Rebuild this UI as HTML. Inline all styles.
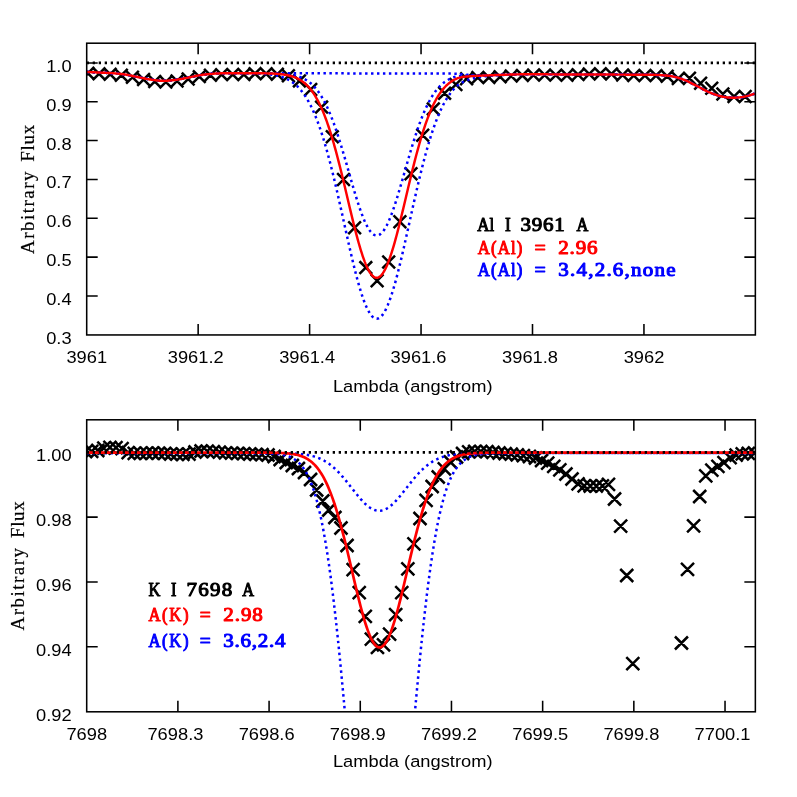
<!DOCTYPE html>
<html><head><meta charset="utf-8"><title>Spectral line fits</title>
<style>
html,body{margin:0;padding:0;background:#fff;}
body{width:797px;height:797px;overflow:hidden;font-family:"Liberation Sans",sans-serif;}
svg{display:block;will-change:transform;}
</style></head><body>
<svg width="797" height="797" viewBox="0 0 797 797">
<rect x="0" y="0" width="797" height="797" fill="#ffffff"/>
<defs>
<clipPath id="c1"><rect x="86.70" y="43.20" width="668.65" height="291.75"/></clipPath>
<clipPath id="c2"><rect x="86.70" y="419.80" width="668.65" height="292.00"/></clipPath>
</defs>
<path d="M198.15,334.95 v-11.00 M198.15,43.20 v11.00 M309.60,334.95 v-11.00 M309.60,43.20 v11.00 M421.05,334.95 v-11.00 M421.05,43.20 v11.00 M532.50,334.95 v-11.00 M532.50,43.20 v11.00 M643.95,334.95 v-11.00 M643.95,43.20 v11.00 M86.70,295.94 h11.00 M755.35,295.94 h-11.00 M86.70,257.10 h11.00 M755.35,257.10 h-11.00 M86.70,218.26 h11.00 M755.35,218.26 h-11.00 M86.70,179.42 h11.00 M755.35,179.42 h-11.00 M86.70,140.58 h11.00 M755.35,140.58 h-11.00 M86.70,101.74 h11.00 M755.35,101.74 h-11.00 M86.70,62.90 h11.00 M755.35,62.90 h-11.00" stroke="#000" stroke-width="1.55" fill="none"/>
<path d="M177.89,711.80 v-11.00 M177.89,419.80 v11.00 M269.08,711.80 v-11.00 M269.08,419.80 v11.00 M360.27,711.80 v-11.00 M360.27,419.80 v11.00 M451.46,711.80 v-11.00 M451.46,419.80 v11.00 M542.65,711.80 v-11.00 M542.65,419.80 v11.00 M633.84,711.80 v-11.00 M633.84,419.80 v11.00 M725.03,711.80 v-11.00 M725.03,419.80 v11.00 M86.70,646.70 h11.00 M755.35,646.70 h-11.00 M86.70,581.90 h11.00 M755.35,581.90 h-11.00 M86.70,517.10 h11.00 M755.35,517.10 h-11.00 M86.70,452.30 h11.00 M755.35,452.30 h-11.00" stroke="#000" stroke-width="1.55" fill="none"/>
<g clip-path="url(#c1)">
<path d="M81.55,66.92 l12.70,12.70 M81.55,79.62 l12.70,-12.70 M92.69,67.50 l12.70,12.70 M92.69,80.20 l12.70,-12.70 M103.83,68.00 l12.70,12.70 M103.83,80.70 l12.70,-12.70 M114.97,68.95 l12.70,12.70 M114.97,81.65 l12.70,-12.70 M126.11,70.86 l12.70,12.70 M126.11,83.56 l12.70,-12.70 M137.25,73.21 l12.70,12.70 M137.25,85.91 l12.70,-12.70 M148.39,75.10 l12.70,12.70 M148.39,87.80 l12.70,-12.70 M159.53,75.71 l12.70,12.70 M159.53,88.41 l12.70,-12.70 M170.67,74.62 l12.70,12.70 M170.67,87.32 l12.70,-12.70 M181.81,72.58 l12.70,12.70 M181.81,85.28 l12.70,-12.70 M192.95,70.27 l12.70,12.70 M192.95,82.97 l12.70,-12.70 M204.09,68.90 l12.70,12.70 M204.09,81.60 l12.70,-12.70 M215.23,68.27 l12.70,12.70 M215.23,80.97 l12.70,-12.70 M226.37,68.12 l12.70,12.70 M226.37,80.82 l12.70,-12.70 M237.51,68.16 l12.70,12.70 M237.51,80.86 l12.70,-12.70 M248.65,67.29 l12.70,12.70 M248.65,79.99 l12.70,-12.70 M259.79,67.42 l12.70,12.70 M259.79,80.12 l12.70,-12.70 M270.93,67.90 l12.70,12.70 M270.93,80.60 l12.70,-12.70 M282.07,69.45 l12.70,12.70 M282.07,82.15 l12.70,-12.70 M293.05,74.55 l12.70,12.70 M293.05,87.25 l12.70,-12.70 M304.35,83.15 l12.70,12.70 M304.35,95.85 l12.70,-12.70 M315.25,100.75 l12.70,12.70 M315.25,113.45 l12.70,-12.70 M325.95,130.45 l12.70,12.70 M325.95,143.15 l12.70,-12.70 M337.15,173.15 l12.70,12.70 M337.15,185.85 l12.70,-12.70 M348.25,221.45 l12.70,12.70 M348.25,234.15 l12.70,-12.70 M359.45,261.25 l12.70,12.70 M359.45,273.95 l12.70,-12.70 M370.75,274.45 l12.70,12.70 M370.75,287.15 l12.70,-12.70 M382.35,255.65 l12.70,12.70 M382.35,268.35 l12.70,-12.70 M393.55,215.45 l12.70,12.70 M393.55,228.15 l12.70,-12.70 M404.65,167.45 l12.70,12.70 M404.65,180.15 l12.70,-12.70 M416.35,128.95 l12.70,12.70 M416.35,141.65 l12.70,-12.70 M426.95,102.55 l12.70,12.70 M426.95,115.25 l12.70,-12.70 M438.25,86.85 l12.70,12.70 M438.25,99.55 l12.70,-12.70 M449.55,78.15 l12.70,12.70 M449.55,90.85 l12.70,-12.70 M460.25,72.45 l12.70,12.70 M460.25,85.15 l12.70,-12.70 M471.45,71.25 l12.70,12.70 M471.45,83.95 l12.70,-12.70 M482.55,71.05 l12.70,12.70 M482.55,83.75 l12.70,-12.70 M493.75,70.45 l12.70,12.70 M493.75,83.15 l12.70,-12.70 M504.85,69.65 l12.70,12.70 M504.85,82.35 l12.70,-12.70 M516.05,69.05 l12.70,12.70 M516.05,81.75 l12.70,-12.70 M527.15,68.75 l12.70,12.70 M527.15,81.45 l12.70,-12.70 M538.29,68.66 l12.70,12.70 M538.29,81.36 l12.70,-12.70 M549.43,68.76 l12.70,12.70 M549.43,81.46 l12.70,-12.70 M560.57,68.84 l12.70,12.70 M560.57,81.54 l12.70,-12.70 M571.71,68.26 l12.70,12.70 M571.71,80.96 l12.70,-12.70 M582.85,67.58 l12.70,12.70 M582.85,80.28 l12.70,-12.70 M593.99,67.30 l12.70,12.70 M593.99,80.00 l12.70,-12.70 M605.13,67.63 l12.70,12.70 M605.13,80.33 l12.70,-12.70 M616.27,68.59 l12.70,12.70 M616.27,81.29 l12.70,-12.70 M627.41,69.08 l12.70,12.70 M627.41,81.78 l12.70,-12.70 M638.55,69.17 l12.70,12.70 M638.55,81.87 l12.70,-12.70 M649.69,69.25 l12.70,12.70 M649.69,81.95 l12.70,-12.70 M660.83,69.98 l12.70,12.70 M660.83,82.68 l12.70,-12.70 M671.97,72.20 l12.70,12.70 M671.97,84.90 l12.70,-12.70 M683.11,71.95 l12.70,12.70 M683.11,84.65 l12.70,-12.70 M694.25,76.95 l12.70,12.70 M694.25,89.65 l12.70,-12.70 M705.39,81.95 l12.70,12.70 M705.39,94.65 l12.70,-12.70 M716.53,87.65 l12.70,12.70 M716.53,100.35 l12.70,-12.70 M727.67,90.15 l12.70,12.70 M727.67,102.85 l12.70,-12.70 M738.81,90.15 l12.70,12.70 M738.81,102.85 l12.70,-12.70" stroke="#000" stroke-width="2.5" fill="none"/>
<path d="M86.70,71.90 L87.70,71.96 L88.70,72.01 L89.70,72.06 L90.70,72.12 L91.70,72.17 L92.70,72.22 L93.70,72.28 L94.70,72.33 L95.70,72.38 L96.70,72.43 L97.70,72.48 L98.70,72.53 L99.70,72.58 L100.70,72.63 L101.70,72.68 L102.70,72.72 L103.70,72.76 L104.70,72.80 L105.70,72.84 L106.70,72.88 L107.70,72.92 L108.70,72.97 L109.70,73.02 L110.70,73.08 L111.70,73.14 L112.70,73.22 L113.70,73.29 L114.70,73.37 L115.70,73.45 L116.70,73.54 L117.70,73.63 L118.70,73.72 L119.70,73.82 L120.70,73.93 L121.70,74.04 L122.70,74.17 L123.70,74.30 L124.70,74.44 L125.70,74.59 L126.70,74.76 L127.70,74.94 L128.70,75.13 L129.70,75.33 L130.70,75.54 L131.70,75.75 L132.70,75.97 L133.70,76.18 L134.70,76.40 L135.70,76.61 L136.70,76.82 L137.70,77.02 L138.70,77.22 L139.70,77.43 L140.70,77.64 L141.70,77.86 L142.70,78.07 L143.70,78.28 L144.70,78.49 L145.70,78.70 L146.70,78.89 L147.70,79.08 L148.70,79.26 L149.70,79.42 L150.70,79.58 L151.70,79.72 L152.70,79.87 L153.70,80.01 L154.70,80.15 L155.70,80.27 L156.70,80.39 L157.70,80.49 L158.70,80.59 L159.70,80.67 L160.70,80.73 L161.70,80.77 L162.70,80.80 L163.70,80.81 L164.70,80.80 L165.70,80.77 L166.70,80.72 L167.70,80.67 L168.70,80.59 L169.70,80.51 L170.70,80.42 L171.70,80.32 L172.70,80.21 L173.70,80.09 L174.70,79.97 L175.70,79.85 L176.70,79.71 L177.70,79.56 L178.70,79.41 L179.70,79.24 L180.70,79.06 L181.70,78.88 L182.70,78.69 L183.70,78.50 L184.70,78.30 L185.70,78.11 L186.70,77.91 L187.70,77.72 L188.70,77.52 L189.70,77.32 L190.70,77.11 L191.70,76.89 L192.70,76.67 L193.70,76.45 L194.70,76.23 L195.70,76.02 L196.70,75.81 L197.70,75.61 L198.70,75.42 L199.70,75.25 L200.70,75.09 L201.70,74.94 L202.70,74.80 L203.70,74.66 L204.70,74.54 L205.70,74.42 L206.70,74.31 L207.70,74.21 L208.70,74.11 L209.70,74.01 L210.70,73.93 L211.70,73.85 L212.70,73.77 L213.70,73.70 L214.70,73.63 L215.70,73.56 L216.70,73.51 L217.70,73.46 L218.70,73.41 L219.70,73.37 L220.70,73.34 L221.70,73.31 L222.70,73.29 L223.70,73.27 L224.70,73.25 L225.70,73.23 L226.70,73.21 L227.70,73.20 L228.70,73.19 L229.70,73.18 L230.70,73.17 L231.70,73.17 L232.70,73.17 L233.70,73.17 L234.70,73.18 L235.70,73.18 L236.70,73.19 L237.70,73.19 L238.70,73.20 L239.70,73.20 L240.70,73.20 L241.70,73.20 L242.70,73.20 L243.70,73.20 L244.70,73.20 L245.70,73.20 L246.70,73.20 L247.70,73.20 L248.70,73.20 L249.70,73.20 L250.70,73.20 L251.70,73.20 L252.70,73.20 L253.70,73.20 L254.70,73.20 L255.70,73.20 L256.70,73.20 L257.70,73.20 L258.70,73.20 L259.70,73.20 L260.70,73.20 L261.70,73.20 L262.70,73.20 L263.70,73.20 L264.70,73.20 L265.70,73.20 L266.70,73.20 L267.70,73.20 L268.70,73.20 L269.70,73.20 L270.70,73.20 L271.70,73.20 L272.70,73.20 L273.70,73.20 L274.70,73.20 L275.70,73.20 L276.70,73.20 L277.70,73.20 L278.70,73.20 L279.70,73.20 L280.70,73.20 L281.70,73.20 L282.70,73.20 L283.70,73.20 L284.70,73.20 L285.70,73.20 L286.70,73.20 L287.70,73.20 L288.70,73.20 L289.70,73.20 L290.70,73.20 L291.70,73.20 L292.70,73.20 L293.70,73.20 L294.70,73.20 L295.70,73.20 L296.70,73.20 L297.70,73.20 L298.70,73.20 L299.70,73.20 L300.70,73.20 L301.70,73.20 L302.70,73.20 L303.70,73.21 L304.70,73.21 L305.70,73.21 L306.70,73.21 L307.70,73.21 L308.70,73.22 L309.70,73.22 L310.70,73.22 L311.70,73.23 L312.70,73.23 L313.70,73.23 L314.70,73.23 L315.70,73.24 L316.70,73.24 L317.70,73.25 L318.70,73.25 L319.70,73.25 L320.70,73.26 L321.70,73.26 L322.70,73.27 L323.70,73.27 L324.70,73.27 L325.70,73.28 L326.70,73.28 L327.70,73.29 L328.70,73.29 L329.70,73.30 L330.70,73.30 L331.70,73.31 L332.70,73.31 L333.70,73.32 L334.70,73.32 L335.70,73.33 L336.70,73.33 L337.70,73.34 L338.70,73.34 L339.70,73.35 L340.70,73.35 L341.70,73.36 L342.70,73.36 L343.70,73.37 L344.70,73.37 L345.70,73.38 L346.70,73.38 L347.70,73.39 L348.70,73.39 L349.70,73.40 L350.70,73.40 L351.70,73.41 L352.70,73.41 L353.70,73.42 L354.70,73.42 L355.70,73.43 L356.70,73.43 L357.70,73.44 L358.70,73.44 L359.70,73.45 L360.70,73.45 L361.70,73.45 L362.70,73.46 L363.70,73.46 L364.70,73.47 L365.70,73.47 L366.70,73.47 L367.70,73.48 L368.70,73.48 L369.70,73.48 L370.70,73.49 L371.70,73.49 L372.70,73.49 L373.70,73.49 L374.70,73.50 L375.70,73.50 L376.70,73.50 L377.70,73.50 L378.70,73.50 L379.70,73.51 L380.70,73.51 L381.70,73.51 L382.70,73.51 L383.70,73.51 L384.70,73.51 L385.70,73.50 L386.70,73.50 L387.70,73.50 L388.70,73.50 L389.70,73.50 L390.70,73.50 L391.70,73.50 L392.70,73.49 L393.70,73.49 L394.70,73.49 L395.70,73.49 L396.70,73.48 L397.70,73.48 L398.70,73.48 L399.70,73.48 L400.70,73.47 L401.70,73.47 L402.70,73.47 L403.70,73.46 L404.70,73.46 L405.70,73.46 L406.70,73.46 L407.70,73.46 L408.70,73.45 L409.70,73.45 L410.70,73.45 L411.70,73.45 L412.70,73.45 L413.70,73.45 L414.70,73.44 L415.70,73.44 L416.70,73.44 L417.70,73.44 L418.70,73.44 L419.70,73.44 L420.70,73.44 L421.70,73.45 L422.70,73.45 L423.70,73.45 L424.70,73.45 L425.70,73.45 L426.70,73.46 L427.70,73.46 L428.70,73.47 L429.70,73.47 L430.70,73.47 L431.70,73.48 L432.70,73.49 L433.70,73.49 L434.70,73.50 L435.70,73.51 L436.70,73.52 L437.70,73.53 L438.70,73.54 L439.70,73.55 L440.70,73.56 L441.70,73.56 L442.70,73.56 L443.70,73.56 L444.70,73.56 L445.70,73.56 L446.70,73.55 L447.70,73.55 L448.70,73.55 L449.70,73.55 L450.70,73.56 L451.70,73.57 L452.70,73.59 L453.70,73.61 L454.70,73.64 L455.70,73.68 L456.70,73.72 L457.70,73.78 L458.70,73.85 L459.70,73.93 L460.70,74.03 L461.70,74.14 L462.70,74.25 L463.70,74.37 L464.70,74.49 L465.70,74.60 L466.70,74.71 L467.70,74.82 L468.70,74.91 L469.70,74.98 L470.70,75.04 L471.70,75.09 L472.70,75.14 L473.70,75.17 L474.70,75.21 L475.70,75.23 L476.70,75.25 L477.70,75.27 L478.70,75.29 L479.70,75.30 L480.70,75.31 L481.70,75.31 L482.70,75.31 L483.70,75.30 L484.70,75.29 L485.70,75.28 L486.70,75.26 L487.70,75.24 L488.70,75.23 L489.70,75.21 L490.70,75.19 L491.70,75.16 L492.70,75.13 L493.70,75.10 L494.70,75.07 L495.70,75.04 L496.70,75.01 L497.70,74.98 L498.70,74.94 L499.70,74.91 L500.70,74.88 L501.70,74.84 L502.70,74.81 L503.70,74.78 L504.70,74.74 L505.70,74.70 L506.70,74.67 L507.70,74.64 L508.70,74.60 L509.70,74.57 L510.70,74.54 L511.70,74.51 L512.70,74.48 L513.70,74.46 L514.70,74.43 L515.70,74.41 L516.70,74.39 L517.70,74.37 L518.70,74.35 L519.70,74.34 L520.70,74.32 L521.70,74.31 L522.70,74.30 L523.70,74.29 L524.70,74.28 L525.70,74.27 L526.70,74.27 L527.70,74.26 L528.70,74.26 L529.70,74.26 L530.70,74.25 L531.70,74.25 L532.70,74.25 L533.70,74.26 L534.70,74.26 L535.70,74.26 L536.70,74.26 L537.70,74.27 L538.70,74.27 L539.70,74.28 L540.70,74.28 L541.70,74.29 L542.70,74.30 L543.70,74.30 L544.70,74.31 L545.70,74.32 L546.70,74.33 L547.70,74.34 L548.70,74.35 L549.70,74.36 L550.70,74.36 L551.70,74.37 L552.70,74.38 L553.70,74.39 L554.70,74.40 L555.70,74.41 L556.70,74.42 L557.70,74.43 L558.70,74.44 L559.70,74.44 L560.70,74.45 L561.70,74.46 L562.70,74.47 L563.70,74.47 L564.70,74.48 L565.70,74.48 L566.70,74.49 L567.70,74.49 L568.70,74.50 L569.70,74.50 L570.70,74.50 L571.70,74.50 L572.70,74.50 L573.70,74.51 L574.70,74.51 L575.70,74.51 L576.70,74.51 L577.70,74.51 L578.70,74.51 L579.70,74.52 L580.70,74.52 L581.70,74.52 L582.70,74.52 L583.70,74.52 L584.70,74.52 L585.70,74.52 L586.70,74.52 L587.70,74.52 L588.70,74.53 L589.70,74.53 L590.70,74.53 L591.70,74.53 L592.70,74.53 L593.70,74.53 L594.70,74.53 L595.70,74.54 L596.70,74.54 L597.70,74.54 L598.70,74.54 L599.70,74.54 L600.70,74.55 L601.70,74.55 L602.70,74.55 L603.70,74.55 L604.70,74.56 L605.70,74.56 L606.70,74.56 L607.70,74.56 L608.70,74.57 L609.70,74.57 L610.70,74.58 L611.70,74.58 L612.70,74.58 L613.70,74.59 L614.70,74.59 L615.70,74.60 L616.70,74.60 L617.70,74.61 L618.70,74.61 L619.70,74.62 L620.70,74.62 L621.70,74.63 L622.70,74.64 L623.70,74.64 L624.70,74.65 L625.70,74.66 L626.70,74.67 L627.70,74.67 L628.70,74.68 L629.70,74.69 L630.70,74.70 L631.70,74.71 L632.70,74.72 L633.70,74.73 L634.70,74.74 L635.70,74.75 L636.70,74.76 L637.70,74.77 L638.70,74.78 L639.70,74.80 L640.70,74.81 L641.70,74.81 L642.70,74.82 L643.70,74.82 L644.70,74.82 L645.70,74.81 L646.70,74.81 L647.70,74.81 L648.70,74.81 L649.70,74.81 L650.70,74.81 L651.70,74.82 L652.70,74.83 L653.70,74.84 L654.70,74.86 L655.70,74.89 L656.70,74.92 L657.70,74.97 L658.70,75.02 L659.70,75.08 L660.70,75.15 L661.70,75.21 L662.70,75.28 L663.70,75.35 L664.70,75.42 L665.70,75.50 L666.70,75.58 L667.70,75.68 L668.70,75.80 L669.70,75.93 L670.70,76.08 L671.70,76.25 L672.70,76.44 L673.70,76.65 L674.70,76.88 L675.70,77.13 L676.70,77.39 L677.70,77.67 L678.70,77.96 L679.70,78.27 L680.70,78.59 L681.70,78.93 L682.70,79.29 L683.70,79.66 L684.70,80.04 L685.70,80.44 L686.70,80.88 L687.70,81.33 L688.70,81.81 L689.70,82.30 L690.70,82.81 L691.70,83.33 L692.70,83.85 L693.70,84.38 L694.70,84.91 L695.70,85.43 L696.70,85.95 L697.70,86.45 L698.70,86.96 L699.70,87.47 L700.70,88.00 L701.70,88.53 L702.70,89.06 L703.70,89.58 L704.70,90.11 L705.70,90.62 L706.70,91.11 L707.70,91.59 L708.70,92.05 L709.70,92.49 L710.70,92.90 L711.70,93.30 L712.70,93.69 L713.70,94.07 L714.70,94.43 L715.70,94.78 L716.70,95.11 L717.70,95.43 L718.70,95.72 L719.70,96.00 L720.70,96.26 L721.70,96.49 L722.70,96.70 L723.70,96.89 L724.70,97.05 L725.70,97.20 L726.70,97.33 L727.70,97.43 L728.70,97.52 L729.70,97.59 L730.70,97.64 L731.70,97.68 L732.70,97.70 L733.70,97.70 L734.70,97.69 L735.70,97.66 L736.70,97.62 L737.70,97.56 L738.70,97.48 L739.70,97.38 L740.70,97.27 L741.70,97.14 L742.70,96.99 L743.70,96.81 L744.70,96.62 L745.70,96.41 L746.70,96.18 L747.70,95.92 L748.70,95.65 L749.70,95.35 L750.70,95.04 L751.70,94.71 L752.70,94.37 L753.70,94.01 L754.70,93.64" stroke="#0000ff" stroke-width="2.5" stroke-dasharray="2.45 3.5" fill="none"/>
<path d="M86.70,71.90 L87.70,71.96 L88.70,72.01 L89.70,72.06 L90.70,72.12 L91.70,72.17 L92.70,72.22 L93.70,72.28 L94.70,72.33 L95.70,72.38 L96.70,72.43 L97.70,72.48 L98.70,72.53 L99.70,72.58 L100.70,72.63 L101.70,72.68 L102.70,72.72 L103.70,72.76 L104.70,72.80 L105.70,72.84 L106.70,72.88 L107.70,72.92 L108.70,72.97 L109.70,73.02 L110.70,73.08 L111.70,73.14 L112.70,73.22 L113.70,73.29 L114.70,73.37 L115.70,73.45 L116.70,73.54 L117.70,73.63 L118.70,73.72 L119.70,73.82 L120.70,73.93 L121.70,74.04 L122.70,74.17 L123.70,74.30 L124.70,74.44 L125.70,74.59 L126.70,74.76 L127.70,74.94 L128.70,75.13 L129.70,75.33 L130.70,75.54 L131.70,75.75 L132.70,75.97 L133.70,76.18 L134.70,76.40 L135.70,76.61 L136.70,76.82 L137.70,77.02 L138.70,77.22 L139.70,77.43 L140.70,77.64 L141.70,77.86 L142.70,78.07 L143.70,78.28 L144.70,78.49 L145.70,78.70 L146.70,78.89 L147.70,79.08 L148.70,79.26 L149.70,79.42 L150.70,79.58 L151.70,79.72 L152.70,79.87 L153.70,80.01 L154.70,80.15 L155.70,80.27 L156.70,80.39 L157.70,80.49 L158.70,80.59 L159.70,80.67 L160.70,80.73 L161.70,80.77 L162.70,80.80 L163.70,80.81 L164.70,80.80 L165.70,80.77 L166.70,80.72 L167.70,80.67 L168.70,80.59 L169.70,80.51 L170.70,80.42 L171.70,80.32 L172.70,80.21 L173.70,80.09 L174.70,79.97 L175.70,79.85 L176.70,79.71 L177.70,79.56 L178.70,79.41 L179.70,79.24 L180.70,79.06 L181.70,78.88 L182.70,78.69 L183.70,78.50 L184.70,78.30 L185.70,78.11 L186.70,77.91 L187.70,77.72 L188.70,77.52 L189.70,77.32 L190.70,77.11 L191.70,76.89 L192.70,76.67 L193.70,76.45 L194.70,76.23 L195.70,76.02 L196.70,75.81 L197.70,75.61 L198.70,75.42 L199.70,75.25 L200.70,75.09 L201.70,74.94 L202.70,74.80 L203.70,74.66 L204.70,74.54 L205.70,74.42 L206.70,74.31 L207.70,74.21 L208.70,74.11 L209.70,74.01 L210.70,73.93 L211.70,73.85 L212.70,73.77 L213.70,73.70 L214.70,73.63 L215.70,73.56 L216.70,73.51 L217.70,73.46 L218.70,73.41 L219.70,73.37 L220.70,73.34 L221.70,73.31 L222.70,73.29 L223.70,73.27 L224.70,73.25 L225.70,73.23 L226.70,73.21 L227.70,73.20 L228.70,73.19 L229.70,73.18 L230.70,73.17 L231.70,73.17 L232.70,73.17 L233.70,73.17 L234.70,73.18 L235.70,73.18 L236.70,73.19 L237.70,73.19 L238.70,73.20 L239.70,73.20 L240.70,73.20 L241.70,73.20 L242.70,73.20 L243.70,73.20 L244.70,73.20 L245.70,73.20 L246.70,73.20 L247.70,73.20 L248.70,73.20 L249.70,73.21 L250.70,73.21 L251.70,73.21 L252.70,73.21 L253.70,73.21 L254.70,73.21 L255.70,73.21 L256.70,73.22 L257.70,73.22 L258.70,73.22 L259.70,73.23 L260.70,73.23 L261.70,73.24 L262.70,73.24 L263.70,73.25 L264.70,73.25 L265.70,73.26 L266.70,73.27 L267.70,73.28 L268.70,73.30 L269.70,73.31 L270.70,73.33 L271.70,73.34 L272.70,73.36 L273.70,73.39 L274.70,73.41 L275.70,73.44 L276.70,73.47 L277.70,73.51 L278.70,73.55 L279.70,73.60 L280.70,73.65 L281.70,73.71 L282.70,73.77 L283.70,73.85 L284.70,73.93 L285.70,74.02 L286.70,74.12 L287.70,74.23 L288.70,74.36 L289.70,74.49 L290.70,74.64 L291.70,74.81 L292.70,74.99 L293.70,75.20 L294.70,75.42 L295.70,75.66 L296.70,75.93 L297.70,76.22 L298.70,76.54 L299.70,76.89 L300.70,77.27 L301.70,77.68 L302.70,78.13 L303.70,78.62 L304.70,79.15 L305.70,79.72 L306.70,80.33 L307.70,80.99 L308.70,81.70 L309.70,82.47 L310.70,83.29 L311.70,84.17 L312.70,85.11 L313.70,86.12 L314.70,87.19 L315.70,88.34 L316.70,89.55 L317.70,90.84 L318.70,92.21 L319.70,93.65 L320.70,95.18 L321.70,96.79 L322.70,98.49 L323.70,100.28 L324.70,102.15 L325.70,104.12 L326.70,106.18 L327.70,108.32 L328.70,110.56 L329.70,112.90 L330.70,115.32 L331.70,117.84 L332.70,120.44 L333.70,123.14 L334.70,125.92 L335.70,128.78 L336.70,131.73 L337.70,134.75 L338.70,137.84 L339.70,141.01 L340.70,144.24 L341.70,147.53 L342.70,150.87 L343.70,154.26 L344.70,157.69 L345.70,161.15 L346.70,164.63 L347.70,168.14 L348.70,171.65 L349.70,175.16 L350.70,178.67 L351.70,182.15 L352.70,185.61 L353.70,189.03 L354.70,192.40 L355.70,195.71 L356.70,198.96 L357.70,202.12 L358.70,205.20 L359.70,208.18 L360.70,211.05 L361.70,213.80 L362.70,216.42 L363.70,218.91 L364.70,221.25 L365.70,223.44 L366.70,225.46 L367.70,227.32 L368.70,229.00 L369.70,230.50 L370.70,231.81 L371.70,232.93 L372.70,233.85 L373.70,234.57 L374.70,235.08 L375.70,235.40 L376.70,235.50 L377.70,235.40 L378.70,235.09 L379.70,234.58 L380.70,233.86 L381.70,232.94 L382.70,231.83 L383.70,230.52 L384.70,229.03 L385.70,227.35 L386.70,225.49 L387.70,223.47 L388.70,221.29 L389.70,218.95 L390.70,216.46 L391.70,213.84 L392.70,211.09 L393.70,208.22 L394.70,205.25 L395.70,202.17 L396.70,199.01 L397.70,195.76 L398.70,192.45 L399.70,189.09 L400.70,185.67 L401.70,182.21 L402.70,178.73 L403.70,175.23 L404.70,171.72 L405.70,168.21 L406.70,164.71 L407.70,161.22 L408.70,157.77 L409.70,154.34 L410.70,150.96 L411.70,147.62 L412.70,144.33 L413.70,141.11 L414.70,137.95 L415.70,134.85 L416.70,131.84 L417.70,128.90 L418.70,126.04 L419.70,123.26 L420.70,120.57 L421.70,117.97 L422.70,115.47 L423.70,113.05 L424.70,110.72 L425.70,108.49 L426.70,106.35 L427.70,104.30 L428.70,102.34 L429.70,100.48 L430.70,98.70 L431.70,97.01 L432.70,95.41 L433.70,93.89 L434.70,92.46 L435.70,91.10 L436.70,89.83 L437.70,88.62 L438.70,87.49 L439.70,86.44 L440.70,85.44 L441.70,84.51 L442.70,83.63 L443.70,82.81 L444.70,82.05 L445.70,81.34 L446.70,80.67 L447.70,80.06 L448.70,79.49 L449.70,78.97 L450.70,78.49 L451.70,78.05 L452.70,77.66 L453.70,77.30 L454.70,76.98 L455.70,76.70 L456.70,76.46 L457.70,76.25 L458.70,76.07 L459.70,75.94 L460.70,75.83 L461.70,75.75 L462.70,75.70 L463.70,75.67 L464.70,75.65 L465.70,75.64 L466.70,75.64 L467.70,75.64 L468.70,75.64 L469.70,75.63 L470.70,75.62 L471.70,75.61 L472.70,75.59 L473.70,75.58 L474.70,75.56 L475.70,75.55 L476.70,75.53 L477.70,75.51 L478.70,75.50 L479.70,75.48 L480.70,75.47 L481.70,75.45 L482.70,75.43 L483.70,75.41 L484.70,75.39 L485.70,75.36 L486.70,75.33 L487.70,75.31 L488.70,75.28 L489.70,75.25 L490.70,75.23 L491.70,75.20 L492.70,75.16 L493.70,75.13 L494.70,75.10 L495.70,75.06 L496.70,75.03 L497.70,74.99 L498.70,74.95 L499.70,74.92 L500.70,74.89 L501.70,74.85 L502.70,74.82 L503.70,74.78 L504.70,74.74 L505.70,74.71 L506.70,74.67 L507.70,74.64 L508.70,74.60 L509.70,74.57 L510.70,74.54 L511.70,74.51 L512.70,74.48 L513.70,74.46 L514.70,74.43 L515.70,74.41 L516.70,74.39 L517.70,74.37 L518.70,74.35 L519.70,74.34 L520.70,74.32 L521.70,74.31 L522.70,74.30 L523.70,74.29 L524.70,74.28 L525.70,74.27 L526.70,74.27 L527.70,74.26 L528.70,74.26 L529.70,74.26 L530.70,74.25 L531.70,74.25 L532.70,74.25 L533.70,74.26 L534.70,74.26 L535.70,74.26 L536.70,74.26 L537.70,74.27 L538.70,74.27 L539.70,74.28 L540.70,74.28 L541.70,74.29 L542.70,74.30 L543.70,74.30 L544.70,74.31 L545.70,74.32 L546.70,74.33 L547.70,74.34 L548.70,74.35 L549.70,74.36 L550.70,74.36 L551.70,74.37 L552.70,74.38 L553.70,74.39 L554.70,74.40 L555.70,74.41 L556.70,74.42 L557.70,74.43 L558.70,74.44 L559.70,74.44 L560.70,74.45 L561.70,74.46 L562.70,74.47 L563.70,74.47 L564.70,74.48 L565.70,74.48 L566.70,74.49 L567.70,74.49 L568.70,74.50 L569.70,74.50 L570.70,74.50 L571.70,74.50 L572.70,74.50 L573.70,74.51 L574.70,74.51 L575.70,74.51 L576.70,74.51 L577.70,74.51 L578.70,74.51 L579.70,74.52 L580.70,74.52 L581.70,74.52 L582.70,74.52 L583.70,74.52 L584.70,74.52 L585.70,74.52 L586.70,74.52 L587.70,74.52 L588.70,74.53 L589.70,74.53 L590.70,74.53 L591.70,74.53 L592.70,74.53 L593.70,74.53 L594.70,74.53 L595.70,74.54 L596.70,74.54 L597.70,74.54 L598.70,74.54 L599.70,74.54 L600.70,74.55 L601.70,74.55 L602.70,74.55 L603.70,74.55 L604.70,74.56 L605.70,74.56 L606.70,74.56 L607.70,74.56 L608.70,74.57 L609.70,74.57 L610.70,74.58 L611.70,74.58 L612.70,74.58 L613.70,74.59 L614.70,74.59 L615.70,74.60 L616.70,74.60 L617.70,74.61 L618.70,74.61 L619.70,74.62 L620.70,74.62 L621.70,74.63 L622.70,74.64 L623.70,74.64 L624.70,74.65 L625.70,74.66 L626.70,74.67 L627.70,74.67 L628.70,74.68 L629.70,74.69 L630.70,74.70 L631.70,74.71 L632.70,74.72 L633.70,74.73 L634.70,74.74 L635.70,74.75 L636.70,74.76 L637.70,74.77 L638.70,74.78 L639.70,74.80 L640.70,74.81 L641.70,74.81 L642.70,74.82 L643.70,74.82 L644.70,74.82 L645.70,74.81 L646.70,74.81 L647.70,74.81 L648.70,74.81 L649.70,74.81 L650.70,74.81 L651.70,74.82 L652.70,74.83 L653.70,74.84 L654.70,74.86 L655.70,74.89 L656.70,74.92 L657.70,74.97 L658.70,75.02 L659.70,75.08 L660.70,75.15 L661.70,75.21 L662.70,75.28 L663.70,75.35 L664.70,75.42 L665.70,75.50 L666.70,75.58 L667.70,75.68 L668.70,75.80 L669.70,75.93 L670.70,76.08 L671.70,76.25 L672.70,76.44 L673.70,76.65 L674.70,76.88 L675.70,77.13 L676.70,77.39 L677.70,77.67 L678.70,77.96 L679.70,78.27 L680.70,78.59 L681.70,78.93 L682.70,79.29 L683.70,79.66 L684.70,80.04 L685.70,80.44 L686.70,80.88 L687.70,81.33 L688.70,81.81 L689.70,82.30 L690.70,82.81 L691.70,83.33 L692.70,83.85 L693.70,84.38 L694.70,84.91 L695.70,85.43 L696.70,85.95 L697.70,86.45 L698.70,86.96 L699.70,87.47 L700.70,88.00 L701.70,88.53 L702.70,89.06 L703.70,89.58 L704.70,90.11 L705.70,90.62 L706.70,91.11 L707.70,91.59 L708.70,92.05 L709.70,92.49 L710.70,92.90 L711.70,93.30 L712.70,93.69 L713.70,94.07 L714.70,94.43 L715.70,94.78 L716.70,95.11 L717.70,95.43 L718.70,95.72 L719.70,96.00 L720.70,96.26 L721.70,96.49 L722.70,96.70 L723.70,96.89 L724.70,97.05 L725.70,97.20 L726.70,97.33 L727.70,97.43 L728.70,97.52 L729.70,97.59 L730.70,97.64 L731.70,97.68 L732.70,97.70 L733.70,97.70 L734.70,97.69 L735.70,97.66 L736.70,97.62 L737.70,97.56 L738.70,97.48 L739.70,97.38 L740.70,97.27 L741.70,97.14 L742.70,96.99 L743.70,96.81 L744.70,96.62 L745.70,96.41 L746.70,96.18 L747.70,95.92 L748.70,95.65 L749.70,95.35 L750.70,95.04 L751.70,94.71 L752.70,94.37 L753.70,94.01 L754.70,93.64" stroke="#0000ff" stroke-width="2.5" stroke-dasharray="2.45 3.5" fill="none"/>
<path d="M86.70,71.90 L87.70,71.96 L88.70,72.01 L89.70,72.06 L90.70,72.12 L91.70,72.17 L92.70,72.22 L93.70,72.28 L94.70,72.33 L95.70,72.38 L96.70,72.43 L97.70,72.48 L98.70,72.53 L99.70,72.58 L100.70,72.63 L101.70,72.68 L102.70,72.72 L103.70,72.76 L104.70,72.80 L105.70,72.84 L106.70,72.88 L107.70,72.92 L108.70,72.97 L109.70,73.02 L110.70,73.08 L111.70,73.14 L112.70,73.22 L113.70,73.29 L114.70,73.37 L115.70,73.45 L116.70,73.54 L117.70,73.63 L118.70,73.72 L119.70,73.82 L120.70,73.93 L121.70,74.04 L122.70,74.17 L123.70,74.30 L124.70,74.44 L125.70,74.59 L126.70,74.76 L127.70,74.94 L128.70,75.13 L129.70,75.33 L130.70,75.54 L131.70,75.75 L132.70,75.97 L133.70,76.18 L134.70,76.40 L135.70,76.61 L136.70,76.82 L137.70,77.02 L138.70,77.22 L139.70,77.43 L140.70,77.64 L141.70,77.86 L142.70,78.07 L143.70,78.28 L144.70,78.49 L145.70,78.70 L146.70,78.89 L147.70,79.08 L148.70,79.26 L149.70,79.42 L150.70,79.58 L151.70,79.72 L152.70,79.87 L153.70,80.01 L154.70,80.15 L155.70,80.27 L156.70,80.39 L157.70,80.49 L158.70,80.59 L159.70,80.67 L160.70,80.73 L161.70,80.77 L162.70,80.80 L163.70,80.81 L164.70,80.80 L165.70,80.77 L166.70,80.72 L167.70,80.67 L168.70,80.59 L169.70,80.51 L170.70,80.42 L171.70,80.32 L172.70,80.21 L173.70,80.09 L174.70,79.97 L175.70,79.85 L176.70,79.71 L177.70,79.56 L178.70,79.41 L179.70,79.24 L180.70,79.06 L181.70,78.88 L182.70,78.69 L183.70,78.50 L184.70,78.30 L185.70,78.11 L186.70,77.91 L187.70,77.72 L188.70,77.52 L189.70,77.32 L190.70,77.11 L191.70,76.89 L192.70,76.67 L193.70,76.45 L194.70,76.23 L195.70,76.02 L196.70,75.81 L197.70,75.61 L198.70,75.42 L199.70,75.25 L200.70,75.09 L201.70,74.94 L202.70,74.80 L203.70,74.67 L204.70,74.54 L205.70,74.42 L206.70,74.31 L207.70,74.21 L208.70,74.11 L209.70,74.01 L210.70,73.93 L211.70,73.85 L212.70,73.77 L213.70,73.70 L214.70,73.63 L215.70,73.56 L216.70,73.51 L217.70,73.46 L218.70,73.41 L219.70,73.38 L220.70,73.34 L221.70,73.32 L222.70,73.29 L223.70,73.27 L224.70,73.25 L225.70,73.24 L226.70,73.22 L227.70,73.21 L228.70,73.19 L229.70,73.19 L230.70,73.18 L231.70,73.18 L232.70,73.19 L233.70,73.19 L234.70,73.20 L235.70,73.21 L236.70,73.22 L237.70,73.22 L238.70,73.23 L239.70,73.24 L240.70,73.25 L241.70,73.25 L242.70,73.26 L243.70,73.27 L244.70,73.27 L245.70,73.28 L246.70,73.30 L247.70,73.31 L248.70,73.32 L249.70,73.34 L250.70,73.35 L251.70,73.37 L252.70,73.39 L253.70,73.42 L254.70,73.44 L255.70,73.47 L256.70,73.50 L257.70,73.54 L258.70,73.58 L259.70,73.62 L260.70,73.67 L261.70,73.73 L262.70,73.78 L263.70,73.85 L264.70,73.92 L265.70,74.00 L266.70,74.09 L267.70,74.18 L268.70,74.28 L269.70,74.40 L270.70,74.52 L271.70,74.66 L272.70,74.81 L273.70,74.97 L274.70,75.15 L275.70,75.34 L276.70,75.55 L277.70,75.78 L278.70,76.02 L279.70,76.29 L280.70,76.58 L281.70,76.89 L282.70,77.23 L283.70,77.60 L284.70,77.99 L285.70,78.42 L286.70,78.88 L287.70,79.37 L288.70,79.90 L289.70,80.47 L290.70,81.08 L291.70,81.73 L292.70,82.43 L293.70,83.17 L294.70,83.97 L295.70,84.82 L296.70,85.72 L297.70,86.68 L298.70,87.70 L299.70,88.79 L300.70,89.94 L301.70,91.16 L302.70,92.45 L303.70,93.81 L304.70,95.25 L305.70,96.76 L306.70,98.36 L307.70,100.04 L308.70,101.81 L309.70,103.66 L310.70,105.60 L311.70,107.64 L312.70,109.77 L313.70,111.99 L314.70,114.32 L315.70,116.74 L316.70,119.26 L317.70,121.88 L318.70,124.60 L319.70,127.42 L320.70,130.35 L321.70,133.37 L322.70,136.50 L323.70,139.73 L324.70,143.06 L325.70,146.48 L326.70,150.01 L327.70,153.62 L328.70,157.33 L329.70,161.13 L330.70,165.02 L331.70,168.98 L332.70,173.03 L333.70,177.15 L334.70,181.34 L335.70,185.59 L336.70,189.90 L337.70,194.26 L338.70,198.68 L339.70,203.13 L340.70,207.61 L341.70,212.12 L342.70,216.65 L343.70,221.18 L344.70,225.72 L345.70,230.25 L346.70,234.77 L347.70,239.26 L348.70,243.72 L349.70,248.13 L350.70,252.50 L351.70,256.80 L352.70,261.03 L353.70,265.17 L354.70,269.23 L355.70,273.19 L356.70,277.04 L357.70,280.76 L358.70,284.36 L359.70,287.83 L360.70,291.14 L361.70,294.31 L362.70,297.31 L363.70,300.14 L364.70,302.79 L365.70,305.26 L366.70,307.54 L367.70,309.62 L368.70,311.49 L369.70,313.16 L370.70,314.62 L371.70,315.86 L372.70,316.88 L373.70,317.67 L374.70,318.24 L375.70,318.59 L376.70,318.70 L377.70,318.59 L378.70,318.25 L379.70,317.68 L380.70,316.89 L381.70,315.87 L382.70,314.64 L383.70,313.19 L384.70,311.52 L385.70,309.65 L386.70,307.57 L387.70,305.29 L388.70,302.83 L389.70,300.18 L390.70,297.35 L391.70,294.35 L392.70,291.19 L393.70,287.87 L394.70,284.41 L395.70,280.81 L396.70,277.09 L397.70,273.24 L398.70,269.29 L399.70,265.23 L400.70,261.08 L401.70,256.86 L402.70,252.56 L403.70,248.20 L404.70,243.79 L405.70,239.33 L406.70,234.84 L407.70,230.33 L408.70,225.80 L409.70,221.27 L410.70,216.73 L411.70,212.21 L412.70,207.70 L413.70,203.22 L414.70,198.78 L415.70,194.37 L416.70,190.01 L417.70,185.70 L418.70,181.46 L419.70,177.27 L420.70,173.16 L421.70,169.12 L422.70,165.16 L423.70,161.28 L424.70,157.49 L425.70,153.79 L426.70,150.18 L427.70,146.67 L428.70,143.25 L429.70,139.93 L430.70,136.71 L431.70,133.59 L432.70,130.58 L433.70,127.66 L434.70,124.85 L435.70,122.14 L436.70,119.53 L437.70,117.03 L438.70,114.62 L439.70,112.31 L440.70,110.10 L441.70,107.98 L442.70,105.95 L443.70,104.00 L444.70,102.15 L445.70,100.38 L446.70,98.70 L447.70,97.11 L448.70,95.59 L449.70,94.16 L450.70,92.80 L451.70,91.53 L452.70,90.32 L453.70,89.20 L454.70,88.14 L455.70,87.16 L456.70,86.25 L457.70,85.40 L458.70,84.62 L459.70,83.91 L460.70,83.27 L461.70,82.67 L462.70,82.14 L463.70,81.64 L464.70,81.19 L465.70,80.78 L466.70,80.40 L467.70,80.04 L468.70,79.70 L469.70,79.38 L470.70,79.08 L471.70,78.79 L472.70,78.52 L473.70,78.27 L474.70,78.03 L475.70,77.81 L476.70,77.60 L477.70,77.41 L478.70,77.23 L479.70,77.07 L480.70,76.91 L481.70,76.77 L482.70,76.63 L483.70,76.50 L484.70,76.38 L485.70,76.26 L486.70,76.15 L487.70,76.04 L488.70,75.95 L489.70,75.85 L490.70,75.77 L491.70,75.69 L492.70,75.61 L493.70,75.53 L494.70,75.45 L495.70,75.38 L496.70,75.31 L497.70,75.25 L498.70,75.18 L499.70,75.13 L500.70,75.07 L501.70,75.02 L502.70,74.96 L503.70,74.91 L504.70,74.86 L505.70,74.81 L506.70,74.76 L507.70,74.72 L508.70,74.68 L509.70,74.63 L510.70,74.60 L511.70,74.56 L512.70,74.53 L513.70,74.50 L514.70,74.47 L515.70,74.44 L516.70,74.42 L517.70,74.39 L518.70,74.37 L519.70,74.36 L520.70,74.34 L521.70,74.33 L522.70,74.31 L523.70,74.30 L524.70,74.29 L525.70,74.28 L526.70,74.28 L527.70,74.27 L528.70,74.26 L529.70,74.26 L530.70,74.26 L531.70,74.26 L532.70,74.26 L533.70,74.26 L534.70,74.26 L535.70,74.26 L536.70,74.27 L537.70,74.27 L538.70,74.27 L539.70,74.28 L540.70,74.28 L541.70,74.29 L542.70,74.30 L543.70,74.31 L544.70,74.31 L545.70,74.32 L546.70,74.33 L547.70,74.34 L548.70,74.35 L549.70,74.36 L550.70,74.37 L551.70,74.37 L552.70,74.38 L553.70,74.39 L554.70,74.40 L555.70,74.41 L556.70,74.42 L557.70,74.43 L558.70,74.44 L559.70,74.44 L560.70,74.45 L561.70,74.46 L562.70,74.47 L563.70,74.47 L564.70,74.48 L565.70,74.48 L566.70,74.49 L567.70,74.49 L568.70,74.50 L569.70,74.50 L570.70,74.50 L571.70,74.50 L572.70,74.50 L573.70,74.51 L574.70,74.51 L575.70,74.51 L576.70,74.51 L577.70,74.51 L578.70,74.51 L579.70,74.52 L580.70,74.52 L581.70,74.52 L582.70,74.52 L583.70,74.52 L584.70,74.52 L585.70,74.52 L586.70,74.52 L587.70,74.52 L588.70,74.53 L589.70,74.53 L590.70,74.53 L591.70,74.53 L592.70,74.53 L593.70,74.53 L594.70,74.53 L595.70,74.54 L596.70,74.54 L597.70,74.54 L598.70,74.54 L599.70,74.54 L600.70,74.55 L601.70,74.55 L602.70,74.55 L603.70,74.55 L604.70,74.56 L605.70,74.56 L606.70,74.56 L607.70,74.56 L608.70,74.57 L609.70,74.57 L610.70,74.58 L611.70,74.58 L612.70,74.58 L613.70,74.59 L614.70,74.59 L615.70,74.60 L616.70,74.60 L617.70,74.61 L618.70,74.61 L619.70,74.62 L620.70,74.62 L621.70,74.63 L622.70,74.64 L623.70,74.64 L624.70,74.65 L625.70,74.66 L626.70,74.67 L627.70,74.67 L628.70,74.68 L629.70,74.69 L630.70,74.70 L631.70,74.71 L632.70,74.72 L633.70,74.73 L634.70,74.74 L635.70,74.75 L636.70,74.76 L637.70,74.77 L638.70,74.78 L639.70,74.80 L640.70,74.81 L641.70,74.81 L642.70,74.82 L643.70,74.82 L644.70,74.82 L645.70,74.81 L646.70,74.81 L647.70,74.81 L648.70,74.81 L649.70,74.81 L650.70,74.81 L651.70,74.82 L652.70,74.83 L653.70,74.84 L654.70,74.86 L655.70,74.89 L656.70,74.92 L657.70,74.97 L658.70,75.02 L659.70,75.08 L660.70,75.15 L661.70,75.21 L662.70,75.28 L663.70,75.35 L664.70,75.42 L665.70,75.50 L666.70,75.58 L667.70,75.68 L668.70,75.80 L669.70,75.93 L670.70,76.08 L671.70,76.25 L672.70,76.44 L673.70,76.65 L674.70,76.88 L675.70,77.13 L676.70,77.39 L677.70,77.67 L678.70,77.96 L679.70,78.27 L680.70,78.59 L681.70,78.93 L682.70,79.29 L683.70,79.66 L684.70,80.04 L685.70,80.44 L686.70,80.88 L687.70,81.33 L688.70,81.81 L689.70,82.30 L690.70,82.81 L691.70,83.33 L692.70,83.85 L693.70,84.38 L694.70,84.91 L695.70,85.43 L696.70,85.95 L697.70,86.45 L698.70,86.96 L699.70,87.47 L700.70,88.00 L701.70,88.53 L702.70,89.06 L703.70,89.58 L704.70,90.11 L705.70,90.62 L706.70,91.11 L707.70,91.59 L708.70,92.05 L709.70,92.49 L710.70,92.90 L711.70,93.30 L712.70,93.69 L713.70,94.07 L714.70,94.43 L715.70,94.78 L716.70,95.11 L717.70,95.43 L718.70,95.72 L719.70,96.00 L720.70,96.26 L721.70,96.49 L722.70,96.70 L723.70,96.89 L724.70,97.05 L725.70,97.20 L726.70,97.33 L727.70,97.43 L728.70,97.52 L729.70,97.59 L730.70,97.64 L731.70,97.68 L732.70,97.70 L733.70,97.70 L734.70,97.69 L735.70,97.66 L736.70,97.62 L737.70,97.56 L738.70,97.48 L739.70,97.38 L740.70,97.27 L741.70,97.14 L742.70,96.99 L743.70,96.81 L744.70,96.62 L745.70,96.41 L746.70,96.18 L747.70,95.92 L748.70,95.65 L749.70,95.35 L750.70,95.04 L751.70,94.71 L752.70,94.37 L753.70,94.01 L754.70,93.64" stroke="#0000ff" stroke-width="2.5" stroke-dasharray="2.45 3.5" fill="none"/>
<path d="M86.70,71.90 L87.70,71.96 L88.70,72.01 L89.70,72.06 L90.70,72.12 L91.70,72.17 L92.70,72.22 L93.70,72.28 L94.70,72.33 L95.70,72.38 L96.70,72.43 L97.70,72.48 L98.70,72.53 L99.70,72.58 L100.70,72.63 L101.70,72.68 L102.70,72.72 L103.70,72.76 L104.70,72.80 L105.70,72.84 L106.70,72.88 L107.70,72.92 L108.70,72.97 L109.70,73.02 L110.70,73.08 L111.70,73.14 L112.70,73.22 L113.70,73.29 L114.70,73.37 L115.70,73.45 L116.70,73.54 L117.70,73.63 L118.70,73.72 L119.70,73.82 L120.70,73.93 L121.70,74.04 L122.70,74.17 L123.70,74.30 L124.70,74.44 L125.70,74.59 L126.70,74.76 L127.70,74.94 L128.70,75.13 L129.70,75.33 L130.70,75.54 L131.70,75.75 L132.70,75.97 L133.70,76.18 L134.70,76.40 L135.70,76.61 L136.70,76.82 L137.70,77.02 L138.70,77.22 L139.70,77.43 L140.70,77.64 L141.70,77.86 L142.70,78.07 L143.70,78.28 L144.70,78.49 L145.70,78.70 L146.70,78.89 L147.70,79.08 L148.70,79.26 L149.70,79.42 L150.70,79.58 L151.70,79.72 L152.70,79.87 L153.70,80.01 L154.70,80.15 L155.70,80.27 L156.70,80.39 L157.70,80.49 L158.70,80.59 L159.70,80.67 L160.70,80.73 L161.70,80.77 L162.70,80.80 L163.70,80.81 L164.70,80.80 L165.70,80.77 L166.70,80.72 L167.70,80.67 L168.70,80.59 L169.70,80.51 L170.70,80.42 L171.70,80.32 L172.70,80.21 L173.70,80.09 L174.70,79.97 L175.70,79.85 L176.70,79.71 L177.70,79.56 L178.70,79.41 L179.70,79.24 L180.70,79.06 L181.70,78.88 L182.70,78.69 L183.70,78.50 L184.70,78.30 L185.70,78.11 L186.70,77.91 L187.70,77.72 L188.70,77.52 L189.70,77.32 L190.70,77.11 L191.70,76.89 L192.70,76.67 L193.70,76.45 L194.70,76.23 L195.70,76.02 L196.70,75.81 L197.70,75.61 L198.70,75.42 L199.70,75.25 L200.70,75.09 L201.70,74.94 L202.70,74.80 L203.70,74.66 L204.70,74.54 L205.70,74.42 L206.70,74.31 L207.70,74.21 L208.70,74.11 L209.70,74.01 L210.70,73.93 L211.70,73.85 L212.70,73.77 L213.70,73.70 L214.70,73.63 L215.70,73.56 L216.70,73.51 L217.70,73.46 L218.70,73.41 L219.70,73.37 L220.70,73.34 L221.70,73.31 L222.70,73.29 L223.70,73.27 L224.70,73.25 L225.70,73.23 L226.70,73.21 L227.70,73.20 L228.70,73.19 L229.70,73.18 L230.70,73.17 L231.70,73.17 L232.70,73.17 L233.70,73.18 L234.70,73.18 L235.70,73.19 L236.70,73.19 L237.70,73.20 L238.70,73.20 L239.70,73.20 L240.70,73.20 L241.70,73.21 L242.70,73.21 L243.70,73.21 L244.70,73.21 L245.70,73.21 L246.70,73.21 L247.70,73.21 L248.70,73.21 L249.70,73.22 L250.70,73.22 L251.70,73.22 L252.70,73.23 L253.70,73.23 L254.70,73.24 L255.70,73.24 L256.70,73.25 L257.70,73.25 L258.70,73.26 L259.70,73.27 L260.70,73.28 L261.70,73.29 L262.70,73.31 L263.70,73.32 L264.70,73.34 L265.70,73.36 L266.70,73.38 L267.70,73.40 L268.70,73.43 L269.70,73.46 L270.70,73.50 L271.70,73.54 L272.70,73.58 L273.70,73.63 L274.70,73.68 L275.70,73.74 L276.70,73.81 L277.70,73.88 L278.70,73.97 L279.70,74.06 L280.70,74.16 L281.70,74.27 L282.70,74.40 L283.70,74.54 L284.70,74.69 L285.70,74.86 L286.70,75.04 L287.70,75.24 L288.70,75.46 L289.70,75.71 L290.70,75.97 L291.70,76.26 L292.70,76.58 L293.70,76.93 L294.70,77.30 L295.70,77.71 L296.70,78.16 L297.70,78.64 L298.70,79.16 L299.70,79.72 L300.70,80.33 L301.70,80.99 L302.70,81.69 L303.70,82.45 L304.70,83.27 L305.70,84.14 L306.70,85.08 L307.70,86.08 L308.70,87.15 L309.70,88.29 L310.70,89.51 L311.70,90.80 L312.70,92.17 L313.70,93.63 L314.70,95.17 L315.70,96.80 L316.70,98.52 L317.70,100.33 L318.70,102.24 L319.70,104.25 L320.70,106.36 L321.70,108.57 L322.70,110.89 L323.70,113.31 L324.70,115.83 L325.70,118.46 L326.70,121.20 L327.70,124.04 L328.70,126.99 L329.70,130.04 L330.70,133.20 L331.70,136.45 L332.70,139.81 L333.70,143.26 L334.70,146.81 L335.70,150.44 L336.70,154.16 L337.70,157.97 L338.70,161.84 L339.70,165.79 L340.70,169.80 L341.70,173.86 L342.70,177.98 L343.70,182.13 L344.70,186.32 L345.70,190.53 L346.70,194.76 L347.70,198.99 L348.70,203.22 L349.70,207.44 L350.70,211.63 L351.70,215.79 L352.70,219.90 L353.70,223.95 L354.70,227.93 L355.70,231.84 L356.70,235.65 L357.70,239.36 L358.70,242.96 L359.70,246.44 L360.70,249.78 L361.70,252.97 L362.70,256.01 L363.70,258.89 L364.70,261.59 L365.70,264.11 L366.70,266.44 L367.70,268.57 L368.70,270.49 L369.70,272.20 L370.70,273.69 L371.70,274.95 L372.70,275.99 L373.70,276.80 L374.70,277.37 L375.70,277.70 L376.70,277.80 L377.70,277.66 L378.70,277.28 L379.70,276.67 L380.70,275.82 L381.70,274.74 L382.70,273.43 L383.70,271.90 L384.70,270.15 L385.70,268.19 L386.70,266.02 L387.70,263.66 L388.70,261.10 L389.70,258.37 L390.70,255.46 L391.70,252.39 L392.70,249.17 L393.70,245.80 L394.70,242.30 L395.70,238.68 L396.70,234.95 L397.70,231.12 L398.70,227.20 L399.70,223.20 L400.70,219.14 L401.70,215.02 L402.70,210.86 L403.70,206.67 L404.70,202.45 L405.70,198.22 L406.70,193.99 L407.70,189.77 L408.70,185.56 L409.70,181.38 L410.70,177.24 L411.70,173.14 L412.70,169.09 L413.70,165.09 L414.70,161.16 L415.70,157.31 L416.70,153.53 L417.70,149.83 L418.70,146.21 L419.70,142.69 L420.70,139.26 L421.70,135.93 L422.70,132.70 L423.70,129.57 L424.70,126.55 L425.70,123.63 L426.70,120.81 L427.70,118.11 L428.70,115.51 L429.70,113.01 L430.70,110.62 L431.70,108.34 L432.70,106.16 L433.70,104.08 L434.70,102.11 L435.70,100.23 L436.70,98.44 L437.70,96.75 L438.70,95.15 L439.70,93.64 L440.70,92.22 L441.70,90.87 L442.70,89.60 L443.70,88.40 L444.70,87.28 L445.70,86.22 L446.70,85.23 L447.70,84.31 L448.70,83.45 L449.70,82.65 L450.70,81.91 L451.70,81.22 L452.70,80.59 L453.70,80.02 L454.70,79.49 L455.70,79.02 L456.70,78.59 L457.70,78.21 L458.70,77.88 L459.70,77.60 L460.70,77.35 L461.70,77.15 L462.70,76.98 L463.70,76.83 L464.70,76.71 L465.70,76.61 L466.70,76.52 L467.70,76.44 L468.70,76.37 L469.70,76.29 L470.70,76.22 L471.70,76.15 L472.70,76.08 L473.70,76.02 L474.70,75.96 L475.70,75.90 L476.70,75.85 L477.70,75.80 L478.70,75.76 L479.70,75.72 L480.70,75.68 L481.70,75.64 L482.70,75.60 L483.70,75.56 L484.70,75.52 L485.70,75.48 L486.70,75.44 L487.70,75.40 L488.70,75.36 L489.70,75.32 L490.70,75.29 L491.70,75.25 L492.70,75.21 L493.70,75.17 L494.70,75.13 L495.70,75.09 L496.70,75.05 L497.70,75.02 L498.70,74.98 L499.70,74.94 L500.70,74.90 L501.70,74.87 L502.70,74.83 L503.70,74.79 L504.70,74.75 L505.70,74.72 L506.70,74.68 L507.70,74.64 L508.70,74.61 L509.70,74.58 L510.70,74.54 L511.70,74.51 L512.70,74.49 L513.70,74.46 L514.70,74.44 L515.70,74.41 L516.70,74.39 L517.70,74.37 L518.70,74.36 L519.70,74.34 L520.70,74.33 L521.70,74.31 L522.70,74.30 L523.70,74.29 L524.70,74.28 L525.70,74.27 L526.70,74.27 L527.70,74.26 L528.70,74.26 L529.70,74.26 L530.70,74.26 L531.70,74.25 L532.70,74.25 L533.70,74.26 L534.70,74.26 L535.70,74.26 L536.70,74.26 L537.70,74.27 L538.70,74.27 L539.70,74.28 L540.70,74.28 L541.70,74.29 L542.70,74.30 L543.70,74.30 L544.70,74.31 L545.70,74.32 L546.70,74.33 L547.70,74.34 L548.70,74.35 L549.70,74.36 L550.70,74.36 L551.70,74.37 L552.70,74.38 L553.70,74.39 L554.70,74.40 L555.70,74.41 L556.70,74.42 L557.70,74.43 L558.70,74.44 L559.70,74.44 L560.70,74.45 L561.70,74.46 L562.70,74.47 L563.70,74.47 L564.70,74.48 L565.70,74.48 L566.70,74.49 L567.70,74.49 L568.70,74.50 L569.70,74.50 L570.70,74.50 L571.70,74.50 L572.70,74.50 L573.70,74.51 L574.70,74.51 L575.70,74.51 L576.70,74.51 L577.70,74.51 L578.70,74.51 L579.70,74.52 L580.70,74.52 L581.70,74.52 L582.70,74.52 L583.70,74.52 L584.70,74.52 L585.70,74.52 L586.70,74.52 L587.70,74.52 L588.70,74.53 L589.70,74.53 L590.70,74.53 L591.70,74.53 L592.70,74.53 L593.70,74.53 L594.70,74.53 L595.70,74.54 L596.70,74.54 L597.70,74.54 L598.70,74.54 L599.70,74.54 L600.70,74.55 L601.70,74.55 L602.70,74.55 L603.70,74.55 L604.70,74.56 L605.70,74.56 L606.70,74.56 L607.70,74.56 L608.70,74.57 L609.70,74.57 L610.70,74.58 L611.70,74.58 L612.70,74.58 L613.70,74.59 L614.70,74.59 L615.70,74.60 L616.70,74.60 L617.70,74.61 L618.70,74.61 L619.70,74.62 L620.70,74.62 L621.70,74.63 L622.70,74.64 L623.70,74.64 L624.70,74.65 L625.70,74.66 L626.70,74.67 L627.70,74.67 L628.70,74.68 L629.70,74.69 L630.70,74.70 L631.70,74.71 L632.70,74.72 L633.70,74.73 L634.70,74.74 L635.70,74.75 L636.70,74.76 L637.70,74.77 L638.70,74.78 L639.70,74.80 L640.70,74.81 L641.70,74.81 L642.70,74.82 L643.70,74.82 L644.70,74.82 L645.70,74.81 L646.70,74.81 L647.70,74.81 L648.70,74.81 L649.70,74.81 L650.70,74.81 L651.70,74.82 L652.70,74.83 L653.70,74.84 L654.70,74.86 L655.70,74.89 L656.70,74.92 L657.70,74.97 L658.70,75.02 L659.70,75.08 L660.70,75.15 L661.70,75.21 L662.70,75.28 L663.70,75.35 L664.70,75.42 L665.70,75.50 L666.70,75.58 L667.70,75.68 L668.70,75.80 L669.70,75.93 L670.70,76.08 L671.70,76.25 L672.70,76.44 L673.70,76.65 L674.70,76.88 L675.70,77.13 L676.70,77.39 L677.70,77.67 L678.70,77.96 L679.70,78.27 L680.70,78.59 L681.70,78.93 L682.70,79.29 L683.70,79.66 L684.70,80.04 L685.70,80.44 L686.70,80.88 L687.70,81.33 L688.70,81.81 L689.70,82.30 L690.70,82.81 L691.70,83.33 L692.70,83.85 L693.70,84.38 L694.70,84.91 L695.70,85.43 L696.70,85.95 L697.70,86.45 L698.70,86.96 L699.70,87.47 L700.70,88.00 L701.70,88.53 L702.70,89.06 L703.70,89.58 L704.70,90.11 L705.70,90.62 L706.70,91.11 L707.70,91.59 L708.70,92.05 L709.70,92.49 L710.70,92.90 L711.70,93.30 L712.70,93.69 L713.70,94.07 L714.70,94.43 L715.70,94.78 L716.70,95.11 L717.70,95.43 L718.70,95.72 L719.70,96.00 L720.70,96.26 L721.70,96.49 L722.70,96.70 L723.70,96.89 L724.70,97.05 L725.70,97.20 L726.70,97.33 L727.70,97.43 L728.70,97.52 L729.70,97.59 L730.70,97.64 L731.70,97.68 L732.70,97.70 L733.70,97.70 L734.70,97.69 L735.70,97.66 L736.70,97.62 L737.70,97.56 L738.70,97.48 L739.70,97.38 L740.70,97.27 L741.70,97.14 L742.70,96.99 L743.70,96.81 L744.70,96.62 L745.70,96.41 L746.70,96.18 L747.70,95.92 L748.70,95.65 L749.70,95.35 L750.70,95.04 L751.70,94.71 L752.70,94.37 L753.70,94.01 L754.70,93.64" stroke="#ff0000" stroke-width="2.45" fill="none" stroke-linejoin="round"/>
<path d="M86.70,62.90 L755.35,62.90" stroke="#000" stroke-width="2.6" stroke-dasharray="2.3 3.7" fill="none"/>
</g>
<g clip-path="url(#c2)">
<path d="M79.10,445.10 l13.00,13.00 M79.10,458.10 l13.00,-13.00 M85.18,444.90 l13.00,13.00 M85.18,457.90 l13.00,-13.00 M91.26,444.00 l13.00,13.00 M91.26,457.00 l13.00,-13.00 M97.34,441.70 l13.00,13.00 M97.34,454.70 l13.00,-13.00 M103.42,440.90 l13.00,13.00 M103.42,453.90 l13.00,-13.00 M109.50,441.10 l13.00,13.00 M109.50,454.10 l13.00,-13.00 M115.58,442.10 l13.00,13.00 M115.58,455.10 l13.00,-13.00 M121.66,446.10 l13.00,13.00 M121.66,459.10 l13.00,-13.00 M127.74,446.90 l13.00,13.00 M127.74,459.90 l13.00,-13.00 M133.82,446.90 l13.00,13.00 M133.82,459.90 l13.00,-13.00 M139.90,446.70 l13.00,13.00 M139.90,459.70 l13.00,-13.00 M145.98,446.50 l13.00,13.00 M145.98,459.50 l13.00,-13.00 M152.06,446.70 l13.00,13.00 M152.06,459.70 l13.00,-13.00 M158.14,446.90 l13.00,13.00 M158.14,459.90 l13.00,-13.00 M164.22,447.50 l13.00,13.00 M164.22,460.50 l13.00,-13.00 M170.30,447.70 l13.00,13.00 M170.30,460.70 l13.00,-13.00 M176.38,447.90 l13.00,13.00 M176.38,460.90 l13.00,-13.00 M182.46,447.70 l13.00,13.00 M182.46,460.70 l13.00,-13.00 M188.54,445.50 l13.00,13.00 M188.54,458.50 l13.00,-13.00 M194.62,444.50 l13.00,13.00 M194.62,457.50 l13.00,-13.00 M200.70,444.70 l13.00,13.00 M200.70,457.70 l13.00,-13.00 M206.78,445.10 l13.00,13.00 M206.78,458.10 l13.00,-13.00 M212.86,445.70 l13.00,13.00 M212.86,458.70 l13.00,-13.00 M218.94,446.30 l13.00,13.00 M218.94,459.30 l13.00,-13.00 M225.02,446.70 l13.00,13.00 M225.02,459.70 l13.00,-13.00 M231.10,446.90 l13.00,13.00 M231.10,459.90 l13.00,-13.00 M237.18,447.10 l13.00,13.00 M237.18,460.10 l13.00,-13.00 M243.26,447.50 l13.00,13.00 M243.26,460.50 l13.00,-13.00 M249.34,447.80 l13.00,13.00 M249.34,460.80 l13.00,-13.00 M255.42,448.10 l13.00,13.00 M255.42,461.10 l13.00,-13.00 M261.50,448.50 l13.00,13.00 M261.50,461.50 l13.00,-13.00 M267.58,450.00 l13.00,13.00 M267.58,463.00 l13.00,-13.00 M273.66,453.00 l13.00,13.00 M273.66,466.00 l13.00,-13.00 M279.74,456.00 l13.00,13.00 M279.74,469.00 l13.00,-13.00 M285.82,459.00 l13.00,13.00 M285.82,472.00 l13.00,-13.00 M291.90,462.00 l13.00,13.00 M291.90,475.00 l13.00,-13.00 M297.98,466.00 l13.00,13.00 M297.98,479.00 l13.00,-13.00 M304.06,473.00 l13.00,13.00 M304.06,486.00 l13.00,-13.00 M310.14,483.50 l13.00,13.00 M310.14,496.50 l13.00,-13.00 M316.22,494.50 l13.00,13.00 M316.22,507.50 l13.00,-13.00 M322.30,503.50 l13.00,13.00 M322.30,516.50 l13.00,-13.00 M328.38,511.00 l13.00,13.00 M328.38,524.00 l13.00,-13.00 M334.46,521.50 l13.00,13.00 M334.46,534.50 l13.00,-13.00 M340.54,539.00 l13.00,13.00 M340.54,552.00 l13.00,-13.00 M346.62,563.10 l13.00,13.00 M346.62,576.10 l13.00,-13.00 M352.70,586.20 l13.00,13.00 M352.70,599.20 l13.00,-13.00 M358.78,609.80 l13.00,13.00 M358.78,622.80 l13.00,-13.00 M364.86,632.70 l13.00,13.00 M364.86,645.70 l13.00,-13.00 M370.94,640.90 l13.00,13.00 M370.94,653.90 l13.00,-13.00 M377.02,638.40 l13.00,13.00 M377.02,651.40 l13.00,-13.00 M383.10,627.60 l13.00,13.00 M383.10,640.60 l13.00,-13.00 M389.18,608.10 l13.00,13.00 M389.18,621.10 l13.00,-13.00 M395.26,586.20 l13.00,13.00 M395.26,599.20 l13.00,-13.00 M401.34,562.40 l13.00,13.00 M401.34,575.40 l13.00,-13.00 M407.42,537.30 l13.00,13.00 M407.42,550.30 l13.00,-13.00 M413.50,512.00 l13.00,13.00 M413.50,525.00 l13.00,-13.00 M419.58,493.80 l13.00,13.00 M419.58,506.80 l13.00,-13.00 M425.66,480.00 l13.00,13.00 M425.66,493.00 l13.00,-13.00 M431.74,470.50 l13.00,13.00 M431.74,483.50 l13.00,-13.00 M437.82,462.40 l13.00,13.00 M437.82,475.40 l13.00,-13.00 M443.90,455.50 l13.00,13.00 M443.90,468.50 l13.00,-13.00 M449.98,450.50 l13.00,13.00 M449.98,463.50 l13.00,-13.00 M456.06,447.00 l13.00,13.00 M456.06,460.00 l13.00,-13.00 M462.14,445.30 l13.00,13.00 M462.14,458.30 l13.00,-13.00 M468.22,444.90 l13.00,13.00 M468.22,457.90 l13.00,-13.00 M474.30,444.90 l13.00,13.00 M474.30,457.90 l13.00,-13.00 M480.38,445.10 l13.00,13.00 M480.38,458.10 l13.00,-13.00 M486.46,445.90 l13.00,13.00 M486.46,458.90 l13.00,-13.00 M492.54,446.50 l13.00,13.00 M492.54,459.50 l13.00,-13.00 M498.62,447.10 l13.00,13.00 M498.62,460.10 l13.00,-13.00 M504.70,447.70 l13.00,13.00 M504.70,460.70 l13.00,-13.00 M510.78,448.40 l13.00,13.00 M510.78,461.40 l13.00,-13.00 M516.86,449.10 l13.00,13.00 M516.86,462.10 l13.00,-13.00 M522.94,450.00 l13.00,13.00 M522.94,463.00 l13.00,-13.00 M529.02,451.50 l13.00,13.00 M529.02,464.50 l13.00,-13.00 M535.10,454.00 l13.00,13.00 M535.10,467.00 l13.00,-13.00 M541.18,456.70 l13.00,13.00 M541.18,469.70 l13.00,-13.00 M547.26,459.90 l13.00,13.00 M547.26,472.90 l13.00,-13.00 M553.34,463.30 l13.00,13.00 M553.34,476.30 l13.00,-13.00 M559.42,467.50 l13.00,13.00 M559.42,480.50 l13.00,-13.00 M565.50,472.50 l13.00,13.00 M565.50,485.50 l13.00,-13.00 M571.58,477.30 l13.00,13.00 M571.58,490.30 l13.00,-13.00 M577.66,479.30 l13.00,13.00 M577.66,492.30 l13.00,-13.00 M583.74,479.50 l13.00,13.00 M583.74,492.50 l13.00,-13.00 M589.82,479.50 l13.00,13.00 M589.82,492.50 l13.00,-13.00 M595.90,479.30 l13.00,13.00 M595.90,492.30 l13.00,-13.00 M601.98,477.90 l13.00,13.00 M601.98,490.90 l13.00,-13.00 M608.06,492.50 l13.00,13.00 M608.06,505.50 l13.00,-13.00 M614.14,519.60 l13.00,13.00 M614.14,532.60 l13.00,-13.00 M620.22,569.00 l13.00,13.00 M620.22,582.00 l13.00,-13.00 M626.30,657.20 l13.00,13.00 M626.30,670.20 l13.00,-13.00 M674.94,636.50 l13.00,13.00 M674.94,649.50 l13.00,-13.00 M681.02,562.80 l13.00,13.00 M681.02,575.80 l13.00,-13.00 M687.10,519.40 l13.00,13.00 M687.10,532.40 l13.00,-13.00 M693.18,490.00 l13.00,13.00 M693.18,503.00 l13.00,-13.00 M699.26,469.40 l13.00,13.00 M699.26,482.40 l13.00,-13.00 M705.34,463.70 l13.00,13.00 M705.34,476.70 l13.00,-13.00 M711.42,459.90 l13.00,13.00 M711.42,472.90 l13.00,-13.00 M717.50,456.10 l13.00,13.00 M717.50,469.10 l13.00,-13.00 M723.58,451.10 l13.00,13.00 M723.58,464.10 l13.00,-13.00 M729.66,448.60 l13.00,13.00 M729.66,461.60 l13.00,-13.00 M735.74,447.30 l13.00,13.00 M735.74,460.30 l13.00,-13.00 M741.82,446.80 l13.00,13.00 M741.82,459.80 l13.00,-13.00 M747.90,446.50 l13.00,13.00 M747.90,459.50 l13.00,-13.00" stroke="#000" stroke-width="2.5" fill="none"/>
<path d="M86.70,453.10 L87.70,453.10 L88.70,453.10 L89.70,453.10 L90.70,453.10 L91.70,453.10 L92.70,453.10 L93.70,453.10 L94.70,453.10 L95.70,453.10 L96.70,453.10 L97.70,453.10 L98.70,453.10 L99.70,453.10 L100.70,453.10 L101.70,453.10 L102.70,453.10 L103.70,453.10 L104.70,453.10 L105.70,453.10 L106.70,453.10 L107.70,453.10 L108.70,453.10 L109.70,453.10 L110.70,453.10 L111.70,453.10 L112.70,453.10 L113.70,453.10 L114.70,453.10 L115.70,453.10 L116.70,453.10 L117.70,453.10 L118.70,453.10 L119.70,453.10 L120.70,453.10 L121.70,453.10 L122.70,453.10 L123.70,453.10 L124.70,453.10 L125.70,453.10 L126.70,453.10 L127.70,453.10 L128.70,453.10 L129.70,453.10 L130.70,453.10 L131.70,453.10 L132.70,453.10 L133.70,453.10 L134.70,453.10 L135.70,453.10 L136.70,453.10 L137.70,453.10 L138.70,453.10 L139.70,453.10 L140.70,453.10 L141.70,453.10 L142.70,453.10 L143.70,453.10 L144.70,453.10 L145.70,453.10 L146.70,453.10 L147.70,453.10 L148.70,453.10 L149.70,453.10 L150.70,453.10 L151.70,453.10 L152.70,453.10 L153.70,453.10 L154.70,453.10 L155.70,453.10 L156.70,453.10 L157.70,453.10 L158.70,453.10 L159.70,453.10 L160.70,453.10 L161.70,453.10 L162.70,453.10 L163.70,453.10 L164.70,453.10 L165.70,453.10 L166.70,453.10 L167.70,453.10 L168.70,453.10 L169.70,453.10 L170.70,453.10 L171.70,453.10 L172.70,453.10 L173.70,453.10 L174.70,453.10 L175.70,453.10 L176.70,453.10 L177.70,453.10 L178.70,453.10 L179.70,453.10 L180.70,453.10 L181.70,453.10 L182.70,453.10 L183.70,453.10 L184.70,453.10 L185.70,453.10 L186.70,453.10 L187.70,453.10 L188.70,453.10 L189.70,453.10 L190.70,453.10 L191.70,453.10 L192.70,453.10 L193.70,453.10 L194.70,453.10 L195.70,453.10 L196.70,453.10 L197.70,453.10 L198.70,453.10 L199.70,453.10 L200.70,453.10 L201.70,453.10 L202.70,453.10 L203.70,453.10 L204.70,453.10 L205.70,453.10 L206.70,453.10 L207.70,453.10 L208.70,453.10 L209.70,453.10 L210.70,453.10 L211.70,453.10 L212.70,453.10 L213.70,453.10 L214.70,453.10 L215.70,453.10 L216.70,453.10 L217.70,453.10 L218.70,453.10 L219.70,453.10 L220.70,453.10 L221.70,453.10 L222.70,453.10 L223.70,453.10 L224.70,453.10 L225.70,453.10 L226.70,453.10 L227.70,453.10 L228.70,453.10 L229.70,453.10 L230.70,453.10 L231.70,453.10 L232.70,453.10 L233.70,453.10 L234.70,453.10 L235.70,453.10 L236.70,453.10 L237.70,453.10 L238.70,453.10 L239.70,453.10 L240.70,453.10 L241.70,453.10 L242.70,453.10 L243.70,453.10 L244.70,453.10 L245.70,453.10 L246.70,453.10 L247.70,453.10 L248.70,453.10 L249.70,453.10 L250.70,453.10 L251.70,453.10 L252.70,453.10 L253.70,453.10 L254.70,453.10 L255.70,453.10 L256.70,453.10 L257.70,453.10 L258.70,453.10 L259.70,453.10 L260.70,453.10 L261.70,453.11 L262.70,453.11 L263.70,453.11 L264.70,453.11 L265.70,453.11 L266.70,453.11 L267.70,453.11 L268.70,453.12 L269.70,453.12 L270.70,453.12 L271.70,453.13 L272.70,453.13 L273.70,453.13 L274.70,453.14 L275.70,453.14 L276.70,453.15 L277.70,453.16 L278.70,453.17 L279.70,453.18 L280.70,453.19 L281.70,453.20 L282.70,453.21 L283.70,453.23 L284.70,453.25 L285.70,453.27 L286.70,453.29 L287.70,453.31 L288.70,453.34 L289.70,453.37 L290.70,453.41 L291.70,453.44 L292.70,453.49 L293.70,453.53 L294.70,453.58 L295.70,453.64 L296.70,453.71 L297.70,453.78 L298.70,453.85 L299.70,453.94 L300.70,454.03 L301.70,454.14 L302.70,454.25 L303.70,454.37 L304.70,454.51 L305.70,454.65 L306.70,454.81 L307.70,454.99 L308.70,455.18 L309.70,455.38 L310.70,455.60 L311.70,455.84 L312.70,456.10 L313.70,456.37 L314.70,456.67 L315.70,456.99 L316.70,457.33 L317.70,457.70 L318.70,458.09 L319.70,458.51 L320.70,458.95 L321.70,459.43 L322.70,459.93 L323.70,460.46 L324.70,461.02 L325.70,461.62 L326.70,462.24 L327.70,462.90 L328.70,463.60 L329.70,464.32 L330.70,465.09 L331.70,465.88 L332.70,466.71 L333.70,467.58 L334.70,468.47 L335.70,469.41 L336.70,470.37 L337.70,471.37 L338.70,472.40 L339.70,473.46 L340.70,474.56 L341.70,475.68 L342.70,476.82 L343.70,477.99 L344.70,479.19 L345.70,480.40 L346.70,481.63 L347.70,482.88 L348.70,484.14 L349.70,485.41 L350.70,486.69 L351.70,487.97 L352.70,489.25 L353.70,490.53 L354.70,491.80 L355.70,493.06 L356.70,494.31 L357.70,495.54 L358.70,496.74 L359.70,497.92 L360.70,499.08 L361.70,500.19 L362.70,501.27 L363.70,502.31 L364.70,503.31 L365.70,504.25 L366.70,505.14 L367.70,505.98 L368.70,506.76 L369.70,507.48 L370.70,508.13 L371.70,508.72 L372.70,509.24 L373.70,509.68 L374.70,510.06 L375.70,510.35 L376.70,510.58 L377.70,510.72 L378.70,510.79 L379.70,510.79 L380.70,510.70 L381.70,510.54 L382.70,510.30 L383.70,509.99 L384.70,509.60 L385.70,509.14 L386.70,508.61 L387.70,508.01 L388.70,507.34 L389.70,506.61 L390.70,505.82 L391.70,504.97 L392.70,504.07 L393.70,503.11 L394.70,502.11 L395.70,501.06 L396.70,499.97 L397.70,498.85 L398.70,497.69 L399.70,496.50 L400.70,495.29 L401.70,494.06 L402.70,492.81 L403.70,491.55 L404.70,490.27 L405.70,488.99 L406.70,487.71 L407.70,486.43 L408.70,485.16 L409.70,483.89 L410.70,482.63 L411.70,481.38 L412.70,480.15 L413.70,478.94 L414.70,477.76 L415.70,476.59 L416.70,475.45 L417.70,474.34 L418.70,473.25 L419.70,472.19 L420.70,471.17 L421.70,470.18 L422.70,469.22 L423.70,468.29 L424.70,467.40 L425.70,466.54 L426.70,465.72 L427.70,464.93 L428.70,464.18 L429.70,463.46 L430.70,462.77 L431.70,462.12 L432.70,461.50 L433.70,460.91 L434.70,460.35 L435.70,459.83 L436.70,459.33 L437.70,458.86 L438.70,458.42 L439.70,458.01 L440.70,457.62 L441.70,457.26 L442.70,456.93 L443.70,456.61 L444.70,456.32 L445.70,456.04 L446.70,455.79 L447.70,455.55 L448.70,455.34 L449.70,455.14 L450.70,454.95 L451.70,454.78 L452.70,454.62 L453.70,454.48 L454.70,454.35 L455.70,454.23 L456.70,454.12 L457.70,454.01 L458.70,453.92 L459.70,453.84 L460.70,453.76 L461.70,453.69 L462.70,453.63 L463.70,453.57 L464.70,453.52 L465.70,453.48 L466.70,453.44 L467.70,453.40 L468.70,453.36 L469.70,453.33 L470.70,453.31 L471.70,453.28 L472.70,453.26 L473.70,453.24 L474.70,453.23 L475.70,453.21 L476.70,453.20 L477.70,453.18 L478.70,453.17 L479.70,453.16 L480.70,453.16 L481.70,453.15 L482.70,453.14 L483.70,453.14 L484.70,453.13 L485.70,453.13 L486.70,453.12 L487.70,453.12 L488.70,453.12 L489.70,453.12 L490.70,453.11 L491.70,453.11 L492.70,453.11 L493.70,453.11 L494.70,453.11 L495.70,453.11 L496.70,453.11 L497.70,453.10 L498.70,453.10 L499.70,453.10 L500.70,453.10 L501.70,453.10 L502.70,453.10 L503.70,453.10 L504.70,453.10 L505.70,453.10 L506.70,453.10 L507.70,453.10 L508.70,453.10 L509.70,453.10 L510.70,453.10 L511.70,453.10 L512.70,453.10 L513.70,453.10 L514.70,453.10 L515.70,453.10 L516.70,453.10 L517.70,453.10 L518.70,453.10 L519.70,453.10 L520.70,453.10 L521.70,453.10 L522.70,453.10 L523.70,453.10 L524.70,453.10 L525.70,453.10 L526.70,453.10 L527.70,453.10 L528.70,453.10 L529.70,453.10 L530.70,453.10 L531.70,453.10 L532.70,453.10 L533.70,453.10 L534.70,453.10 L535.70,453.10 L536.70,453.10 L537.70,453.10 L538.70,453.10 L539.70,453.10 L540.70,453.10 L541.70,453.10 L542.70,453.10 L543.70,453.10 L544.70,453.10 L545.70,453.10 L546.70,453.10 L547.70,453.10 L548.70,453.10 L549.70,453.10 L550.70,453.10 L551.70,453.10 L552.70,453.10 L553.70,453.10 L554.70,453.10 L555.70,453.10 L556.70,453.10 L557.70,453.10 L558.70,453.10 L559.70,453.10 L560.70,453.10 L561.70,453.10 L562.70,453.10 L563.70,453.10 L564.70,453.10 L565.70,453.10 L566.70,453.10 L567.70,453.10 L568.70,453.10 L569.70,453.10 L570.70,453.10 L571.70,453.10 L572.70,453.10 L573.70,453.10 L574.70,453.10 L575.70,453.10 L576.70,453.10 L577.70,453.10 L578.70,453.10 L579.70,453.10 L580.70,453.10 L581.70,453.10 L582.70,453.10 L583.70,453.10 L584.70,453.10 L585.70,453.10 L586.70,453.10 L587.70,453.10 L588.70,453.10 L589.70,453.10 L590.70,453.10 L591.70,453.10 L592.70,453.10 L593.70,453.10 L594.70,453.10 L595.70,453.10 L596.70,453.10 L597.70,453.10 L598.70,453.10 L599.70,453.10 L600.70,453.10 L601.70,453.10 L602.70,453.10 L603.70,453.10 L604.70,453.10 L605.70,453.10 L606.70,453.10 L607.70,453.10 L608.70,453.10 L609.70,453.10 L610.70,453.10 L611.70,453.10 L612.70,453.10 L613.70,453.10 L614.70,453.10 L615.70,453.10 L616.70,453.10 L617.70,453.10 L618.70,453.10 L619.70,453.10 L620.70,453.10 L621.70,453.10 L622.70,453.10 L623.70,453.10 L624.70,453.10 L625.70,453.10 L626.70,453.10 L627.70,453.10 L628.70,453.10 L629.70,453.10 L630.70,453.10 L631.70,453.10 L632.70,453.10 L633.70,453.10 L634.70,453.10 L635.70,453.10 L636.70,453.10 L637.70,453.10 L638.70,453.10 L639.70,453.10 L640.70,453.10 L641.70,453.10 L642.70,453.10 L643.70,453.10 L644.70,453.10 L645.70,453.10 L646.70,453.10 L647.70,453.10 L648.70,453.10 L649.70,453.10 L650.70,453.10 L651.70,453.10 L652.70,453.10 L653.70,453.10 L654.70,453.10 L655.70,453.10 L656.70,453.10 L657.70,453.10 L658.70,453.10 L659.70,453.10 L660.70,453.10 L661.70,453.10 L662.70,453.10 L663.70,453.10 L664.70,453.10 L665.70,453.10 L666.70,453.10 L667.70,453.10 L668.70,453.10 L669.70,453.10 L670.70,453.10 L671.70,453.10 L672.70,453.10 L673.70,453.10 L674.70,453.10 L675.70,453.10 L676.70,453.10 L677.70,453.10 L678.70,453.10 L679.70,453.10 L680.70,453.10 L681.70,453.10 L682.70,453.10 L683.70,453.10 L684.70,453.10 L685.70,453.10 L686.70,453.10 L687.70,453.10 L688.70,453.10 L689.70,453.10 L690.70,453.10 L691.70,453.10 L692.70,453.10 L693.70,453.10 L694.70,453.10 L695.70,453.10 L696.70,453.10 L697.70,453.10 L698.70,453.10 L699.70,453.10 L700.70,453.10 L701.70,453.10 L702.70,453.10 L703.70,453.10 L704.70,453.10 L705.70,453.10 L706.70,453.10 L707.70,453.10 L708.70,453.10 L709.70,453.10 L710.70,453.10 L711.70,453.10 L712.70,453.10 L713.70,453.10 L714.70,453.10 L715.70,453.10 L716.70,453.10 L717.70,453.10 L718.70,453.10 L719.70,453.10 L720.70,453.10 L721.70,453.10 L722.70,453.10 L723.70,453.10 L724.70,453.10 L725.70,453.10 L726.70,453.10 L727.70,453.10 L728.70,453.10 L729.70,453.10 L730.70,453.10 L731.70,453.10 L732.70,453.10 L733.70,453.10 L734.70,453.10 L735.70,453.10 L736.70,453.10 L737.70,453.10 L738.70,453.10 L739.70,453.10 L740.70,453.10 L741.70,453.10 L742.70,453.10 L743.70,453.10 L744.70,453.10 L745.70,453.10 L746.70,453.10 L747.70,453.10 L748.70,453.10 L749.70,453.10 L750.70,453.10 L751.70,453.10 L752.70,453.10 L753.70,453.10 L754.70,453.10" stroke="#0000ff" stroke-width="2.5" stroke-dasharray="2.45 3.5" fill="none"/>
<path d="M86.70,453.10 L87.70,453.10 L88.70,453.10 L89.70,453.10 L90.70,453.10 L91.70,453.10 L92.70,453.10 L93.70,453.10 L94.70,453.10 L95.70,453.10 L96.70,453.10 L97.70,453.10 L98.70,453.10 L99.70,453.10 L100.70,453.10 L101.70,453.10 L102.70,453.10 L103.70,453.10 L104.70,453.10 L105.70,453.10 L106.70,453.10 L107.70,453.10 L108.70,453.10 L109.70,453.10 L110.70,453.10 L111.70,453.10 L112.70,453.10 L113.70,453.10 L114.70,453.10 L115.70,453.10 L116.70,453.10 L117.70,453.10 L118.70,453.10 L119.70,453.10 L120.70,453.10 L121.70,453.10 L122.70,453.10 L123.70,453.10 L124.70,453.10 L125.70,453.10 L126.70,453.10 L127.70,453.10 L128.70,453.10 L129.70,453.10 L130.70,453.10 L131.70,453.10 L132.70,453.10 L133.70,453.10 L134.70,453.10 L135.70,453.10 L136.70,453.10 L137.70,453.10 L138.70,453.10 L139.70,453.10 L140.70,453.10 L141.70,453.10 L142.70,453.10 L143.70,453.10 L144.70,453.10 L145.70,453.10 L146.70,453.10 L147.70,453.10 L148.70,453.10 L149.70,453.10 L150.70,453.10 L151.70,453.10 L152.70,453.10 L153.70,453.10 L154.70,453.10 L155.70,453.10 L156.70,453.10 L157.70,453.10 L158.70,453.10 L159.70,453.10 L160.70,453.10 L161.70,453.10 L162.70,453.10 L163.70,453.10 L164.70,453.10 L165.70,453.10 L166.70,453.10 L167.70,453.10 L168.70,453.10 L169.70,453.10 L170.70,453.10 L171.70,453.10 L172.70,453.10 L173.70,453.10 L174.70,453.10 L175.70,453.10 L176.70,453.10 L177.70,453.10 L178.70,453.10 L179.70,453.10 L180.70,453.10 L181.70,453.10 L182.70,453.10 L183.70,453.10 L184.70,453.10 L185.70,453.10 L186.70,453.10 L187.70,453.10 L188.70,453.10 L189.70,453.10 L190.70,453.10 L191.70,453.10 L192.70,453.10 L193.70,453.10 L194.70,453.10 L195.70,453.10 L196.70,453.10 L197.70,453.10 L198.70,453.10 L199.70,453.10 L200.70,453.10 L201.70,453.10 L202.70,453.10 L203.70,453.10 L204.70,453.10 L205.70,453.10 L206.70,453.10 L207.70,453.10 L208.70,453.10 L209.70,453.10 L210.70,453.10 L211.70,453.10 L212.70,453.10 L213.70,453.10 L214.70,453.10 L215.70,453.10 L216.70,453.10 L217.70,453.10 L218.70,453.10 L219.70,453.10 L220.70,453.10 L221.70,453.10 L222.70,453.10 L223.70,453.10 L224.70,453.10 L225.70,453.10 L226.70,453.10 L227.70,453.10 L228.70,453.10 L229.70,453.10 L230.70,453.10 L231.70,453.10 L232.70,453.10 L233.70,453.10 L234.70,453.10 L235.70,453.10 L236.70,453.10 L237.70,453.10 L238.70,453.10 L239.70,453.10 L240.70,453.10 L241.70,453.10 L242.70,453.11 L243.70,453.11 L244.70,453.11 L245.70,453.11 L246.70,453.11 L247.70,453.11 L248.70,453.11 L249.70,453.12 L250.70,453.12 L251.70,453.12 L252.70,453.13 L253.70,453.13 L254.70,453.14 L255.70,453.14 L256.70,453.15 L257.70,453.16 L258.70,453.17 L259.70,453.18 L260.70,453.19 L261.70,453.20 L262.70,453.22 L263.70,453.24 L264.70,453.26 L265.70,453.28 L266.70,453.31 L267.70,453.34 L268.70,453.37 L269.70,453.41 L270.70,453.46 L271.70,453.51 L272.70,453.57 L273.70,453.63 L274.70,453.71 L275.70,453.79 L276.70,453.88 L277.70,453.99 L278.70,454.11 L279.70,454.24 L280.70,454.39 L281.70,454.56 L282.70,454.74 L283.70,454.95 L284.70,455.18 L285.70,455.44 L286.70,455.72 L287.70,456.04 L288.70,456.39 L289.70,456.78 L290.70,457.21 L291.70,457.69 L292.70,458.21 L293.70,458.78 L294.70,459.42 L295.70,460.11 L296.70,460.87 L297.70,461.71 L298.70,462.62 L299.70,463.61 L300.70,464.69 L301.70,465.87 L302.70,467.16 L303.70,468.55 L304.70,470.06 L305.70,471.69 L306.70,473.46 L307.70,475.36 L308.70,477.42 L309.70,479.63 L310.70,482.00 L311.70,484.55 L312.70,487.29 L313.70,490.21 L314.70,493.34 L315.70,496.68 L316.70,500.23 L317.70,504.02 L318.70,508.03 L319.70,512.30 L320.70,516.81 L321.70,521.59 L322.70,526.63 L323.70,531.94 L324.70,537.54 L325.70,543.42 L326.70,549.60 L327.70,556.07 L328.70,562.83 L329.70,569.90 L330.70,577.27 L331.70,584.94 L332.70,592.92 L333.70,601.19 L334.70,609.76 L335.70,618.63 L336.70,627.77 L337.70,637.20 L338.70,646.90 L339.70,656.86 L340.70,667.07 L341.70,677.51 L342.70,688.17 L343.70,699.03 L344.70,710.08 L345.70,721.30 L346.70,732.66 L347.70,744.15 L348.70,755.73 L349.70,767.39 L350.70,779.09 L351.70,790.82 L352.70,802.53 L353.70,814.21 L354.70,825.82 L355.70,837.33 L356.70,848.70 L357.70,859.91 L358.70,870.93 L359.70,881.71 L360.70,892.24 L361.70,902.46 L362.70,912.36 L363.70,921.90 L364.70,931.05 L365.70,939.78 L366.70,948.06 L367.70,955.86 L368.70,963.15 L369.70,969.92 L370.70,976.13 L371.70,981.76 L372.70,986.79 L373.70,991.21 L374.70,995.00 L375.70,998.15 L376.70,1000.64 L377.70,1002.46 L378.70,1003.61 L379.70,1004.09 L380.70,1003.88 L381.70,1003.00 L382.70,1001.45 L383.70,999.22 L384.70,996.34 L385.70,992.81 L386.70,988.64 L387.70,983.85 L388.70,978.45 L389.70,972.47 L390.70,965.92 L391.70,958.84 L392.70,951.24 L393.70,943.15 L394.70,934.60 L395.70,925.61 L396.70,916.22 L397.70,906.46 L398.70,896.36 L399.70,885.96 L400.70,875.27 L401.70,864.35 L402.70,853.21 L403.70,841.89 L404.70,830.43 L405.70,818.86 L406.70,807.21 L407.70,795.51 L408.70,783.78 L409.70,772.06 L410.70,760.39 L411.70,748.77 L412.70,737.24 L413.70,725.83 L414.70,714.55 L415.70,703.43 L416.70,692.49 L417.70,681.75 L418.70,671.22 L419.70,660.91 L420.70,650.85 L421.70,641.05 L422.70,631.51 L423.70,622.25 L424.70,613.27 L425.70,604.58 L426.70,596.19 L427.70,588.10 L428.70,580.30 L429.70,572.81 L430.70,565.62 L431.70,558.74 L432.70,552.15 L433.70,545.86 L434.70,539.86 L435.70,534.15 L436.70,528.72 L437.70,523.57 L438.70,518.69 L439.70,514.07 L440.70,509.71 L441.70,505.59 L442.70,501.72 L443.70,498.07 L444.70,494.65 L445.70,491.44 L446.70,488.44 L447.70,485.63 L448.70,483.00 L449.70,480.56 L450.70,478.28 L451.70,476.16 L452.70,474.20 L453.70,472.38 L454.70,470.69 L455.70,469.14 L456.70,467.70 L457.70,466.37 L458.70,465.15 L459.70,464.03 L460.70,463.00 L461.70,462.06 L462.70,461.20 L463.70,460.41 L464.70,459.69 L465.70,459.03 L466.70,458.43 L467.70,457.89 L468.70,457.40 L469.70,456.95 L470.70,456.54 L471.70,456.18 L472.70,455.85 L473.70,455.55 L474.70,455.28 L475.70,455.04 L476.70,454.82 L477.70,454.63 L478.70,454.45 L479.70,454.30 L480.70,454.16 L481.70,454.03 L482.70,453.92 L483.70,453.83 L484.70,453.74 L485.70,453.66 L486.70,453.59 L487.70,453.53 L488.70,453.48 L489.70,453.43 L490.70,453.39 L491.70,453.35 L492.70,453.32 L493.70,453.29 L494.70,453.27 L495.70,453.24 L496.70,453.22 L497.70,453.21 L498.70,453.19 L499.70,453.18 L500.70,453.17 L501.70,453.16 L502.70,453.15 L503.70,453.14 L504.70,453.14 L505.70,453.13 L506.70,453.13 L507.70,453.12 L508.70,453.12 L509.70,453.12 L510.70,453.11 L511.70,453.11 L512.70,453.11 L513.70,453.11 L514.70,453.11 L515.70,453.11 L516.70,453.11 L517.70,453.10 L518.70,453.10 L519.70,453.10 L520.70,453.10 L521.70,453.10 L522.70,453.10 L523.70,453.10 L524.70,453.10 L525.70,453.10 L526.70,453.10 L527.70,453.10 L528.70,453.10 L529.70,453.10 L530.70,453.10 L531.70,453.10 L532.70,453.10 L533.70,453.10 L534.70,453.10 L535.70,453.10 L536.70,453.10 L537.70,453.10 L538.70,453.10 L539.70,453.10 L540.70,453.10 L541.70,453.10 L542.70,453.10 L543.70,453.10 L544.70,453.10 L545.70,453.10 L546.70,453.10 L547.70,453.10 L548.70,453.10 L549.70,453.10 L550.70,453.10 L551.70,453.10 L552.70,453.10 L553.70,453.10 L554.70,453.10 L555.70,453.10 L556.70,453.10 L557.70,453.10 L558.70,453.10 L559.70,453.10 L560.70,453.10 L561.70,453.10 L562.70,453.10 L563.70,453.10 L564.70,453.10 L565.70,453.10 L566.70,453.10 L567.70,453.10 L568.70,453.10 L569.70,453.10 L570.70,453.10 L571.70,453.10 L572.70,453.10 L573.70,453.10 L574.70,453.10 L575.70,453.10 L576.70,453.10 L577.70,453.10 L578.70,453.10 L579.70,453.10 L580.70,453.10 L581.70,453.10 L582.70,453.10 L583.70,453.10 L584.70,453.10 L585.70,453.10 L586.70,453.10 L587.70,453.10 L588.70,453.10 L589.70,453.10 L590.70,453.10 L591.70,453.10 L592.70,453.10 L593.70,453.10 L594.70,453.10 L595.70,453.10 L596.70,453.10 L597.70,453.10 L598.70,453.10 L599.70,453.10 L600.70,453.10 L601.70,453.10 L602.70,453.10 L603.70,453.10 L604.70,453.10 L605.70,453.10 L606.70,453.10 L607.70,453.10 L608.70,453.10 L609.70,453.10 L610.70,453.10 L611.70,453.10 L612.70,453.10 L613.70,453.10 L614.70,453.10 L615.70,453.10 L616.70,453.10 L617.70,453.10 L618.70,453.10 L619.70,453.10 L620.70,453.10 L621.70,453.10 L622.70,453.10 L623.70,453.10 L624.70,453.10 L625.70,453.10 L626.70,453.10 L627.70,453.10 L628.70,453.10 L629.70,453.10 L630.70,453.10 L631.70,453.10 L632.70,453.10 L633.70,453.10 L634.70,453.10 L635.70,453.10 L636.70,453.10 L637.70,453.10 L638.70,453.10 L639.70,453.10 L640.70,453.10 L641.70,453.10 L642.70,453.10 L643.70,453.10 L644.70,453.10 L645.70,453.10 L646.70,453.10 L647.70,453.10 L648.70,453.10 L649.70,453.10 L650.70,453.10 L651.70,453.10 L652.70,453.10 L653.70,453.10 L654.70,453.10 L655.70,453.10 L656.70,453.10 L657.70,453.10 L658.70,453.10 L659.70,453.10 L660.70,453.10 L661.70,453.10 L662.70,453.10 L663.70,453.10 L664.70,453.10 L665.70,453.10 L666.70,453.10 L667.70,453.10 L668.70,453.10 L669.70,453.10 L670.70,453.10 L671.70,453.10 L672.70,453.10 L673.70,453.10 L674.70,453.10 L675.70,453.10 L676.70,453.10 L677.70,453.10 L678.70,453.10 L679.70,453.10 L680.70,453.10 L681.70,453.10 L682.70,453.10 L683.70,453.10 L684.70,453.10 L685.70,453.10 L686.70,453.10 L687.70,453.10 L688.70,453.10 L689.70,453.10 L690.70,453.10 L691.70,453.10 L692.70,453.10 L693.70,453.10 L694.70,453.10 L695.70,453.10 L696.70,453.10 L697.70,453.10 L698.70,453.10 L699.70,453.10 L700.70,453.10 L701.70,453.10 L702.70,453.10 L703.70,453.10 L704.70,453.10 L705.70,453.10 L706.70,453.10 L707.70,453.10 L708.70,453.10 L709.70,453.10 L710.70,453.10 L711.70,453.10 L712.70,453.10 L713.70,453.10 L714.70,453.10 L715.70,453.10 L716.70,453.10 L717.70,453.10 L718.70,453.10 L719.70,453.10 L720.70,453.10 L721.70,453.10 L722.70,453.10 L723.70,453.10 L724.70,453.10 L725.70,453.10 L726.70,453.10 L727.70,453.10 L728.70,453.10 L729.70,453.10 L730.70,453.10 L731.70,453.10 L732.70,453.10 L733.70,453.10 L734.70,453.10 L735.70,453.10 L736.70,453.10 L737.70,453.10 L738.70,453.10 L739.70,453.10 L740.70,453.10 L741.70,453.10 L742.70,453.10 L743.70,453.10 L744.70,453.10 L745.70,453.10 L746.70,453.10 L747.70,453.10 L748.70,453.10 L749.70,453.10 L750.70,453.10 L751.70,453.10 L752.70,453.10 L753.70,453.10 L754.70,453.10" stroke="#0000ff" stroke-width="2.5" stroke-dasharray="2.45 3.5" fill="none"/>
<path d="M86.70,452.65 L87.70,452.65 L88.70,452.65 L89.70,452.65 L90.70,452.65 L91.70,452.65 L92.70,452.65 L93.70,452.65 L94.70,452.65 L95.70,452.65 L96.70,452.65 L97.70,452.65 L98.70,452.65 L99.70,452.65 L100.70,452.65 L101.70,452.65 L102.70,452.65 L103.70,452.65 L104.70,452.65 L105.70,452.65 L106.70,452.65 L107.70,452.65 L108.70,452.65 L109.70,452.65 L110.70,452.65 L111.70,452.65 L112.70,452.65 L113.70,452.65 L114.70,452.65 L115.70,452.65 L116.70,452.65 L117.70,452.65 L118.70,452.65 L119.70,452.65 L120.70,452.65 L121.70,452.65 L122.70,452.65 L123.70,452.65 L124.70,452.65 L125.70,452.65 L126.70,452.65 L127.70,452.65 L128.70,452.65 L129.70,452.65 L130.70,452.65 L131.70,452.65 L132.70,452.65 L133.70,452.65 L134.70,452.65 L135.70,452.65 L136.70,452.65 L137.70,452.65 L138.70,452.65 L139.70,452.65 L140.70,452.65 L141.70,452.65 L142.70,452.65 L143.70,452.65 L144.70,452.65 L145.70,452.65 L146.70,452.65 L147.70,452.65 L148.70,452.65 L149.70,452.65 L150.70,452.65 L151.70,452.65 L152.70,452.65 L153.70,452.65 L154.70,452.65 L155.70,452.65 L156.70,452.65 L157.70,452.65 L158.70,452.65 L159.70,452.65 L160.70,452.65 L161.70,452.65 L162.70,452.65 L163.70,452.65 L164.70,452.65 L165.70,452.65 L166.70,452.65 L167.70,452.65 L168.70,452.65 L169.70,452.65 L170.70,452.65 L171.70,452.65 L172.70,452.65 L173.70,452.65 L174.70,452.65 L175.70,452.65 L176.70,452.65 L177.70,452.65 L178.70,452.65 L179.70,452.65 L180.70,452.65 L181.70,452.65 L182.70,452.65 L183.70,452.65 L184.70,452.65 L185.70,452.65 L186.70,452.65 L187.70,452.65 L188.70,452.65 L189.70,452.65 L190.70,452.65 L191.70,452.65 L192.70,452.65 L193.70,452.65 L194.70,452.65 L195.70,452.65 L196.70,452.65 L197.70,452.65 L198.70,452.65 L199.70,452.65 L200.70,452.65 L201.70,452.65 L202.70,452.65 L203.70,452.65 L204.70,452.65 L205.70,452.65 L206.70,452.65 L207.70,452.65 L208.70,452.65 L209.70,452.65 L210.70,452.65 L211.70,452.65 L212.70,452.65 L213.70,452.65 L214.70,452.65 L215.70,452.65 L216.70,452.65 L217.70,452.65 L218.70,452.65 L219.70,452.65 L220.70,452.65 L221.70,452.65 L222.70,452.65 L223.70,452.65 L224.70,452.65 L225.70,452.65 L226.70,452.65 L227.70,452.65 L228.70,452.65 L229.70,452.65 L230.70,452.65 L231.70,452.65 L232.70,452.65 L233.70,452.65 L234.70,452.65 L235.70,452.65 L236.70,452.65 L237.70,452.65 L238.70,452.65 L239.70,452.65 L240.70,452.65 L241.70,452.65 L242.70,452.65 L243.70,452.65 L244.70,452.65 L245.70,452.65 L246.70,452.65 L247.70,452.65 L248.70,452.65 L249.70,452.65 L250.70,452.65 L251.70,452.65 L252.70,452.66 L253.70,452.66 L254.70,452.66 L255.70,452.66 L256.70,452.66 L257.70,452.66 L258.70,452.66 L259.70,452.67 L260.70,452.67 L261.70,452.67 L262.70,452.67 L263.70,452.68 L264.70,452.68 L265.70,452.69 L266.70,452.70 L267.70,452.70 L268.70,452.71 L269.70,452.72 L270.70,452.73 L271.70,452.74 L272.70,452.76 L273.70,452.77 L274.70,452.79 L275.70,452.81 L276.70,452.84 L277.70,452.86 L278.70,452.89 L279.70,452.93 L280.70,452.97 L281.70,453.01 L282.70,453.06 L283.70,453.12 L284.70,453.18 L285.70,453.25 L286.70,453.33 L287.70,453.41 L288.70,453.51 L289.70,453.62 L290.70,453.74 L291.70,453.87 L292.70,454.02 L293.70,454.19 L294.70,454.37 L295.70,454.57 L296.70,454.79 L297.70,455.04 L298.70,455.30 L299.70,455.60 L300.70,455.92 L301.70,456.28 L302.70,456.67 L303.70,457.09 L304.70,457.55 L305.70,458.06 L306.70,458.60 L307.70,459.20 L308.70,459.84 L309.70,460.53 L310.70,461.29 L311.70,462.10 L312.70,462.97 L313.70,463.91 L314.70,464.92 L315.70,466.00 L316.70,467.16 L317.70,468.40 L318.70,469.72 L319.70,471.13 L320.70,472.63 L321.70,474.23 L322.70,475.91 L323.70,477.70 L324.70,479.59 L325.70,481.59 L326.70,483.69 L327.70,485.90 L328.70,488.22 L329.70,490.65 L330.70,493.20 L331.70,495.86 L332.70,498.63 L333.70,501.52 L334.70,504.52 L335.70,507.63 L336.70,510.86 L337.70,514.19 L338.70,517.62 L339.70,521.16 L340.70,524.80 L341.70,528.53 L342.70,532.35 L343.70,536.25 L344.70,540.23 L345.70,544.27 L346.70,548.38 L347.70,552.54 L348.70,556.74 L349.70,560.98 L350.70,565.24 L351.70,569.52 L352.70,573.80 L353.70,578.07 L354.70,582.32 L355.70,586.54 L356.70,590.72 L357.70,594.84 L358.70,598.89 L359.70,602.86 L360.70,606.74 L361.70,610.50 L362.70,614.15 L363.70,617.66 L364.70,621.03 L365.70,624.25 L366.70,627.29 L367.70,630.16 L368.70,632.84 L369.70,635.31 L370.70,637.58 L371.70,639.63 L372.70,641.46 L373.70,643.05 L374.70,644.40 L375.70,645.51 L376.70,646.38 L377.70,646.99 L378.70,647.35 L379.70,647.45 L380.70,647.30 L381.70,646.89 L382.70,646.23 L383.70,645.31 L384.70,644.15 L385.70,642.75 L386.70,641.11 L387.70,639.24 L388.70,637.14 L389.70,634.83 L390.70,632.32 L391.70,629.60 L392.70,626.70 L393.70,623.62 L394.70,620.37 L395.70,616.97 L396.70,613.43 L397.70,609.76 L398.70,605.97 L399.70,602.07 L400.70,598.09 L401.70,594.02 L402.70,589.89 L403.70,585.70 L404.70,581.47 L405.70,577.22 L406.70,572.94 L407.70,568.66 L408.70,564.39 L409.70,560.13 L410.70,555.90 L411.70,551.70 L412.70,547.55 L413.70,543.46 L414.70,539.42 L415.70,535.46 L416.70,531.58 L417.70,527.78 L418.70,524.06 L419.70,520.45 L420.70,516.93 L421.70,513.51 L422.70,510.20 L423.70,507.00 L424.70,503.91 L425.70,500.93 L426.70,498.07 L427.70,495.31 L428.70,492.68 L429.70,490.15 L430.70,487.74 L431.70,485.45 L432.70,483.26 L433.70,481.18 L434.70,479.20 L435.70,477.34 L436.70,475.57 L437.70,473.90 L438.70,472.33 L439.70,470.84 L440.70,469.45 L441.70,468.15 L442.70,466.93 L443.70,465.78 L444.70,464.71 L445.70,463.72 L446.70,462.79 L447.70,461.93 L448.70,461.13 L449.70,460.39 L450.70,459.71 L451.70,459.07 L452.70,458.49 L453.70,457.95 L454.70,457.46 L455.70,457.00 L456.70,456.59 L457.70,456.20 L458.70,455.86 L459.70,455.54 L460.70,455.25 L461.70,454.98 L462.70,454.74 L463.70,454.53 L464.70,454.33 L465.70,454.15 L466.70,453.99 L467.70,453.84 L468.70,453.71 L469.70,453.60 L470.70,453.49 L471.70,453.39 L472.70,453.31 L473.70,453.23 L474.70,453.16 L475.70,453.10 L476.70,453.05 L477.70,453.00 L478.70,452.96 L479.70,452.92 L480.70,452.89 L481.70,452.86 L482.70,452.83 L483.70,452.81 L484.70,452.79 L485.70,452.77 L486.70,452.75 L487.70,452.74 L488.70,452.73 L489.70,452.72 L490.70,452.71 L491.70,452.70 L492.70,452.69 L493.70,452.69 L494.70,452.68 L495.70,452.68 L496.70,452.67 L497.70,452.67 L498.70,452.67 L499.70,452.67 L500.70,452.66 L501.70,452.66 L502.70,452.66 L503.70,452.66 L504.70,452.66 L505.70,452.66 L506.70,452.65 L507.70,452.65 L508.70,452.65 L509.70,452.65 L510.70,452.65 L511.70,452.65 L512.70,452.65 L513.70,452.65 L514.70,452.65 L515.70,452.65 L516.70,452.65 L517.70,452.65 L518.70,452.65 L519.70,452.65 L520.70,452.65 L521.70,452.65 L522.70,452.65 L523.70,452.65 L524.70,452.65 L525.70,452.65 L526.70,452.65 L527.70,452.65 L528.70,452.65 L529.70,452.65 L530.70,452.65 L531.70,452.65 L532.70,452.65 L533.70,452.65 L534.70,452.65 L535.70,452.65 L536.70,452.65 L537.70,452.65 L538.70,452.65 L539.70,452.65 L540.70,452.65 L541.70,452.65 L542.70,452.65 L543.70,452.65 L544.70,452.65 L545.70,452.65 L546.70,452.65 L547.70,452.65 L548.70,452.65 L549.70,452.65 L550.70,452.65 L551.70,452.65 L552.70,452.65 L553.70,452.65 L554.70,452.65 L555.70,452.65 L556.70,452.65 L557.70,452.65 L558.70,452.65 L559.70,452.65 L560.70,452.65 L561.70,452.65 L562.70,452.65 L563.70,452.65 L564.70,452.65 L565.70,452.65 L566.70,452.65 L567.70,452.65 L568.70,452.65 L569.70,452.65 L570.70,452.65 L571.70,452.65 L572.70,452.65 L573.70,452.65 L574.70,452.65 L575.70,452.65 L576.70,452.65 L577.70,452.65 L578.70,452.65 L579.70,452.65 L580.70,452.65 L581.70,452.65 L582.70,452.65 L583.70,452.65 L584.70,452.65 L585.70,452.65 L586.70,452.65 L587.70,452.65 L588.70,452.65 L589.70,452.65 L590.70,452.65 L591.70,452.65 L592.70,452.65 L593.70,452.65 L594.70,452.65 L595.70,452.65 L596.70,452.65 L597.70,452.65 L598.70,452.65 L599.70,452.65 L600.70,452.65 L601.70,452.65 L602.70,452.65 L603.70,452.65 L604.70,452.65 L605.70,452.65 L606.70,452.65 L607.70,452.65 L608.70,452.65 L609.70,452.65 L610.70,452.65 L611.70,452.65 L612.70,452.65 L613.70,452.65 L614.70,452.65 L615.70,452.65 L616.70,452.65 L617.70,452.65 L618.70,452.65 L619.70,452.65 L620.70,452.65 L621.70,452.65 L622.70,452.65 L623.70,452.65 L624.70,452.65 L625.70,452.65 L626.70,452.65 L627.70,452.65 L628.70,452.65 L629.70,452.65 L630.70,452.65 L631.70,452.65 L632.70,452.65 L633.70,452.65 L634.70,452.65 L635.70,452.65 L636.70,452.65 L637.70,452.65 L638.70,452.65 L639.70,452.65 L640.70,452.65 L641.70,452.65 L642.70,452.65 L643.70,452.65 L644.70,452.65 L645.70,452.65 L646.70,452.65 L647.70,452.65 L648.70,452.65 L649.70,452.65 L650.70,452.65 L651.70,452.65 L652.70,452.65 L653.70,452.65 L654.70,452.65 L655.70,452.65 L656.70,452.65 L657.70,452.65 L658.70,452.65 L659.70,452.65 L660.70,452.65 L661.70,452.65 L662.70,452.65 L663.70,452.65 L664.70,452.65 L665.70,452.65 L666.70,452.65 L667.70,452.65 L668.70,452.65 L669.70,452.65 L670.70,452.65 L671.70,452.65 L672.70,452.65 L673.70,452.65 L674.70,452.65 L675.70,452.65 L676.70,452.65 L677.70,452.65 L678.70,452.65 L679.70,452.65 L680.70,452.65 L681.70,452.65 L682.70,452.65 L683.70,452.65 L684.70,452.65 L685.70,452.65 L686.70,452.65 L687.70,452.65 L688.70,452.65 L689.70,452.65 L690.70,452.65 L691.70,452.65 L692.70,452.65 L693.70,452.65 L694.70,452.65 L695.70,452.65 L696.70,452.65 L697.70,452.65 L698.70,452.65 L699.70,452.65 L700.70,452.65 L701.70,452.65 L702.70,452.65 L703.70,452.65 L704.70,452.65 L705.70,452.65 L706.70,452.65 L707.70,452.65 L708.70,452.65 L709.70,452.65 L710.70,452.65 L711.70,452.65 L712.70,452.65 L713.70,452.65 L714.70,452.65 L715.70,452.65 L716.70,452.65 L717.70,452.65 L718.70,452.65 L719.70,452.65 L720.70,452.65 L721.70,452.65 L722.70,452.65 L723.70,452.65 L724.70,452.65 L725.70,452.65 L726.70,452.65 L727.70,452.65 L728.70,452.65 L729.70,452.65 L730.70,452.65 L731.70,452.65 L732.70,452.65 L733.70,452.65 L734.70,452.65 L735.70,452.65 L736.70,452.65 L737.70,452.65 L738.70,452.65 L739.70,452.65 L740.70,452.65 L741.70,452.65 L742.70,452.65 L743.70,452.65 L744.70,452.65 L745.70,452.65 L746.70,452.65 L747.70,452.65 L748.70,452.65 L749.70,452.65 L750.70,452.65 L751.70,452.65 L752.70,452.65 L753.70,452.65 L754.70,452.65" stroke="#ff0000" stroke-width="2.7" fill="none" stroke-linejoin="round"/>
<path d="M86.70,452.40 L755.35,452.40" stroke="#000" stroke-width="2.6" stroke-dasharray="2.3 3.7" fill="none"/>
</g>
<rect x="86.70" y="43.20" width="668.65" height="291.75" fill="none" stroke="#000" stroke-width="1.55"/>
<rect x="86.70" y="419.80" width="668.65" height="292.00" fill="none" stroke="#000" stroke-width="1.55"/>
<g font-family="Liberation Sans, sans-serif" font-size="17.4" fill="#000">
<text transform="translate(66.44,363.30) scale(1.0517,1)">3961</text>
<text transform="translate(167.71,363.30) scale(1.0517,1)">3961.2</text>
<text transform="translate(279.16,363.30) scale(1.0517,1)">3961.4</text>
<text transform="translate(390.61,363.30) scale(1.0517,1)">3961.6</text>
<text transform="translate(502.06,363.30) scale(1.0517,1)">3961.8</text>
<text transform="translate(623.69,363.30) scale(1.0517,1)">3962</text>
<text transform="translate(71.60,343.78) scale(1.0517,1)" text-anchor="end">0.3</text>
<text transform="translate(71.60,304.94) scale(1.0517,1)" text-anchor="end">0.4</text>
<text transform="translate(71.60,266.10) scale(1.0517,1)" text-anchor="end">0.5</text>
<text transform="translate(71.60,227.26) scale(1.0517,1)" text-anchor="end">0.6</text>
<text transform="translate(71.60,188.42) scale(1.0517,1)" text-anchor="end">0.7</text>
<text transform="translate(71.60,149.58) scale(1.0517,1)" text-anchor="end">0.8</text>
<text transform="translate(71.60,110.74) scale(1.0517,1)" text-anchor="end">0.9</text>
<text transform="translate(71.60,71.90) scale(1.0517,1)" text-anchor="end">1.0</text>
<text transform="translate(66.44,739.80) scale(1.0517,1)">7698</text>
<text transform="translate(147.45,739.80) scale(1.0517,1)">7698.3</text>
<text transform="translate(238.64,739.80) scale(1.0517,1)">7698.6</text>
<text transform="translate(329.83,739.80) scale(1.0517,1)">7698.9</text>
<text transform="translate(421.02,739.80) scale(1.0517,1)">7699.2</text>
<text transform="translate(512.21,739.80) scale(1.0517,1)">7699.5</text>
<text transform="translate(603.40,739.80) scale(1.0517,1)">7699.8</text>
<text transform="translate(694.59,739.80) scale(1.0517,1)">7700.1</text>
<text transform="translate(71.60,720.50) scale(1.0517,1)" text-anchor="end">0.92</text>
<text transform="translate(71.60,655.70) scale(1.0517,1)" text-anchor="end">0.94</text>
<text transform="translate(71.60,590.90) scale(1.0517,1)" text-anchor="end">0.96</text>
<text transform="translate(71.60,526.10) scale(1.0517,1)" text-anchor="end">0.98</text>
<text transform="translate(71.60,461.30) scale(1.0517,1)" text-anchor="end">1.00</text>
<text transform="translate(332.90,391.70) scale(1.0517,1)">Lambda (angstrom)</text>
<text transform="translate(332.90,767.10) scale(1.0517,1)">Lambda (angstrom)</text>
</g>
<g font-family="Liberation Serif, serif" font-size="18.6" stroke-width="0.2" transform="translate(33.90,0.00) rotate(-90)">
<text transform="translate(-254.00,0.00) scale(1.0200,1)" fill="#000" stroke="#000" letter-spacing="1.460">Arbitrary</text>
<text transform="translate(-161.70,0.00) scale(1.0200,1)" fill="#000" stroke="#000" letter-spacing="0.692">Flux</text>
</g>
<g font-family="Liberation Serif, serif" font-size="18.6" stroke-width="0.2" transform="translate(23.60,376.40) rotate(-90)">
<text transform="translate(-254.00,0.00) scale(1.0200,1)" fill="#000" stroke="#000" letter-spacing="1.460">Arbitrary</text>
<text transform="translate(-161.70,0.00) scale(1.0200,1)" fill="#000" stroke="#000" letter-spacing="0.692">Flux</text>
</g>
<g font-family="Liberation Serif, serif" font-size="17.8" stroke-width="1.0" stroke-linejoin="round">
<text transform="translate(477.30,230.60) scale(0.9438,1)" fill="#000" stroke="#000" letter-spacing="0.000">Al</text>
<text transform="translate(505.10,230.60) scale(0.9661,1)" fill="#000" stroke="#000">I</text>
<text transform="translate(520.60,230.60) scale(1.1800,1)" fill="#000" stroke="#000" letter-spacing="0.619">3961</text>
<text transform="translate(576.42,230.60) scale(0.9200,1)" fill="#000" stroke="#000">A</text>
<text transform="translate(477.70,253.50) scale(0.9400,1)" fill="#ff0000" stroke="#ff0000" letter-spacing="1.263">A(Al)</text>
<text transform="translate(534.40,253.50) scale(1.1200,1)" fill="#ff0000" stroke="#ff0000">=</text>
<text transform="translate(558.30,253.50) scale(1.1800,1)" fill="#ff0000" stroke="#ff0000" letter-spacing="0.673">2.96</text>
<text transform="translate(477.70,276.40) scale(0.9400,1)" fill="#0000ff" stroke="#0000ff" letter-spacing="1.263">A(Al)</text>
<text transform="translate(534.40,276.40) scale(1.1200,1)" fill="#0000ff" stroke="#0000ff">=</text>
<text transform="translate(558.30,276.40) scale(1.1800,1)" fill="#0000ff" stroke="#0000ff" letter-spacing="1.037">3.4,2.6,none</text>
<text transform="translate(148.50,595.50) scale(0.9225,1)" fill="#000" stroke="#000">K</text>
<text transform="translate(171.00,595.50) scale(0.9153,1)" fill="#000" stroke="#000">I</text>
<text transform="translate(186.50,595.50) scale(1.1800,1)" fill="#000" stroke="#000" letter-spacing="1.043">7698</text>
<text transform="translate(242.27,595.50) scale(0.9200,1)" fill="#000" stroke="#000">A</text>
<text transform="translate(148.40,620.80) scale(0.9400,1)" fill="#ff0000" stroke="#ff0000" letter-spacing="1.722">A(K)</text>
<text transform="translate(199.80,620.80) scale(1.0900,1)" fill="#ff0000" stroke="#ff0000">=</text>
<text transform="translate(223.30,620.80) scale(1.1800,1)" fill="#ff0000" stroke="#ff0000" letter-spacing="0.786">2.98</text>
<text transform="translate(148.40,646.90) scale(0.9400,1)" fill="#0000ff" stroke="#0000ff" letter-spacing="1.722">A(K)</text>
<text transform="translate(199.80,646.90) scale(1.0900,1)" fill="#0000ff" stroke="#0000ff">=</text>
<text transform="translate(223.30,646.90) scale(1.1800,1)" fill="#0000ff" stroke="#0000ff" letter-spacing="0.633">3.6,2.4</text>
</g>
</svg>
</body></html>
